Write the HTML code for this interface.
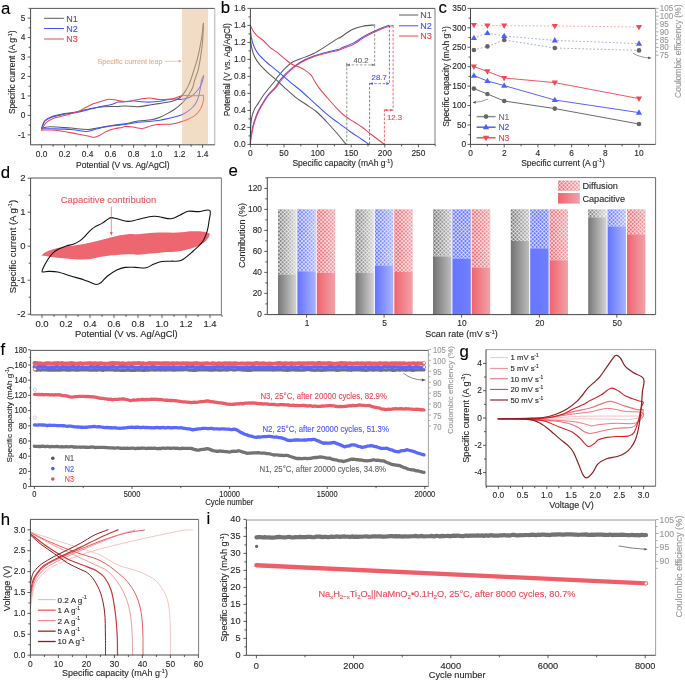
<!DOCTYPE html>
<html><head><meta charset="utf-8"><style>
html,body{margin:0;padding:0;background:#fff;}
svg{display:block;font-family:"Liberation Sans",sans-serif;filter:blur(0.3px);}
</style></head><body>
<svg width="685" height="681" viewBox="0 0 685 681">
<defs>
<linearGradient id="gG" x1="0" x2="1" y1="0" y2="0"><stop offset="0" stop-color="#777"/><stop offset="1" stop-color="#d4d4d4"/></linearGradient>
<linearGradient id="gB" x1="0" x2="1" y1="0" y2="0"><stop offset="0" stop-color="#6374ff"/><stop offset="1" stop-color="#a9b3ff"/></linearGradient>
<linearGradient id="gR" x1="0" x2="1" y1="0" y2="0"><stop offset="0" stop-color="#f0646e"/><stop offset="1" stop-color="#f2a2a8"/></linearGradient>
<linearGradient id="gG2" x1="0" x2="1" y1="0" y2="0"><stop offset="0" stop-color="#727272"/><stop offset="1" stop-color="#bdbdbd"/></linearGradient>
<linearGradient id="gBu" x1="0" x2="1" y1="0" y2="0"><stop offset="0" stop-color="#6676ff"/><stop offset="1" stop-color="#6f7fff"/></linearGradient>
<pattern id="hatch" width="2.72" height="2.72" patternUnits="userSpaceOnUse" patternTransform="rotate(45)">
<rect x="0" y="0" width="2.72" height="0.62" fill="#fff" fill-opacity="0.9"/><rect x="0" y="0" width="0.62" height="2.72" fill="#fff" fill-opacity="0.9"/></pattern>
</defs>
<rect width="685" height="681" fill="#fff"/>
<path d="M41.7,128.1 C42.18,126.9 43.03,122.77 44.6,120.9 C46.17,119.03 47.82,118.12 51.1,116.9 C54.38,115.68 59.92,114.47 64.3,113.6 C68.68,112.73 73.02,112.57 77.4,111.7 C81.78,110.83 86.22,109.22 90.6,108.4 C94.98,107.58 99.33,107.13 103.7,106.8 C108.07,106.47 113.25,106.53 116.8,106.4 C120.35,106.27 121.45,105.95 125,106 C128.55,106.05 133.72,106.92 138.1,106.7 C142.48,106.48 147.65,105.25 151.3,104.7 C154.95,104.15 157.33,103.8 160,103.4 C162.67,103 164.87,102.8 167.3,102.3 C169.73,101.8 172.65,101.08 174.6,100.4 C176.55,99.72 177.78,98.98 179,98.2 C180.22,97.42 180.82,96.92 181.9,95.7 C182.98,94.48 184.38,92.67 185.5,90.9 C186.62,89.13 187.7,87 188.6,85.1 C189.5,83.2 190.08,81.77 190.9,79.5 C191.72,77.23 192.4,75.03 193.5,71.5 C194.6,67.97 196.4,62.48 197.5,58.3 C198.6,54.12 199.33,50.37 200.1,46.4 C200.87,42.43 201.55,38.35 202.1,34.5 C202.65,30.65 203.18,25.17 203.4,23.3" stroke="#5a5a5a" stroke-width="1.05" fill="none" stroke-linejoin="round" stroke-linecap="round" />
<path d="M203.4,23.3 C203.28,26.05 203.13,34.4 202.7,39.8 C202.27,45.2 201.57,50.63 200.8,55.7 C200.03,60.77 199.12,66.15 198.1,70.2 C197.08,74.25 195.58,77.15 194.7,80 C193.82,82.85 193.6,85.17 192.8,87.3 C192,89.43 190.98,90.98 189.9,92.8 C188.82,94.62 187.52,96.57 186.3,98.2 C185.08,99.83 183.7,101.43 182.6,102.6 C181.5,103.77 181.03,104.1 179.7,105.2 C178.37,106.3 176.67,107.8 174.6,109.2 C172.53,110.6 169.73,112.27 167.3,113.6 C164.87,114.93 162.67,116.17 160,117.2 C157.33,118.23 154.95,119.15 151.3,119.8 C147.65,120.45 142.48,120.43 138.1,121.1 C133.72,121.77 128.55,123.18 125,123.8 C121.45,124.42 120.35,124.3 116.8,124.8 C113.25,125.3 108.4,126.03 103.7,126.8 C99,127.57 94.08,129.18 88.6,129.4 C83.12,129.62 77.05,128.53 70.8,128.1 C64.55,127.67 55.95,126.8 51.1,126.8 C46.25,126.8 43.27,127.88 41.7,128.1" stroke="#5a5a5a" stroke-width="1.05" fill="none" stroke-linejoin="round" stroke-linecap="round" />
<path d="M41.7,128.8 C42.18,127.58 43.03,123.37 44.6,121.5 C46.17,119.63 47.82,118.8 51.1,117.6 C54.38,116.4 59.92,115.18 64.3,114.3 C68.68,113.42 73.02,113.17 77.4,112.3 C81.78,111.43 86.65,110.08 90.6,109.1 C94.55,108.12 97.6,107.17 101.1,106.4 C104.6,105.63 108.77,105.22 111.6,104.5 C114.43,103.78 115.87,102.55 118.1,102.1 C120.33,101.65 122.53,102.02 125,101.8 C127.47,101.58 130.27,100.8 132.9,100.8 C135.53,100.8 137.73,101.58 140.8,101.8 C143.87,102.02 148.1,102.2 151.3,102.1 C154.5,102 157.33,101.6 160,101.2 C162.67,100.8 164.87,100.05 167.3,99.7 C169.73,99.35 172.17,99.17 174.6,99.1 C177.03,99.03 179.47,99.57 181.9,99.3 C184.33,99.03 187.25,98.28 189.2,97.5 C191.15,96.72 192.02,96.05 193.6,94.6 C195.18,93.15 197.3,90.75 198.7,88.8 C200.1,86.85 201.17,85.07 202,82.9 C202.83,80.73 203.42,76.98 203.7,75.8" stroke="#4152ff" stroke-width="1.05" fill="none" stroke-linejoin="round" stroke-linecap="round" />
<path d="M203.7,75.8 C203.35,76.5 202.13,78.08 201.6,80 C201.07,81.92 200.98,84.62 200.5,87.3 C200.02,89.98 199.37,93.67 198.7,96.1 C198.03,98.53 197.48,100.08 196.5,101.9 C195.52,103.72 194.27,105.42 192.8,107 C191.33,108.58 189.52,110.12 187.7,111.4 C185.88,112.68 184.08,113.78 181.9,114.7 C179.72,115.62 177.03,116.23 174.6,116.9 C172.17,117.57 169.73,118.15 167.3,118.7 C164.87,119.25 162.67,119.77 160,120.2 C157.33,120.63 154.95,120.95 151.3,121.3 C147.65,121.65 142.48,121.78 138.1,122.3 C133.72,122.82 129.63,123.77 125,124.4 C120.37,125.03 114.95,125.37 110.3,126.1 C105.65,126.83 101.05,127.92 97.1,128.8 C93.15,129.68 90.98,131.3 86.6,131.4 C82.22,131.5 76.72,129.83 70.8,129.4 C64.88,128.97 55.95,128.9 51.1,128.8 C46.25,128.7 43.27,128.8 41.7,128.8" stroke="#4152ff" stroke-width="1.05" fill="none" stroke-linejoin="round" stroke-linecap="round" />
<path d="M41.7,130.1 C42.4,128.88 43.88,124.78 45.9,122.8 C47.92,120.82 50.73,119.4 53.8,118.2 C56.87,117 60.37,116.68 64.3,115.6 C68.23,114.52 74.12,112.9 77.4,111.7 C80.68,110.5 81.37,109.72 84,108.4 C86.63,107.08 90.57,104.9 93.2,103.8 C95.83,102.7 97.17,102.57 99.8,101.8 C102.43,101.03 106.17,99.47 109,99.2 C111.83,98.93 114.62,99.87 116.8,100.2 C118.98,100.53 120.23,100.97 122.1,101.2 C123.97,101.43 125.77,101.78 128,101.6 C130.23,101.42 132.07,100.68 135.5,100.1 C138.93,99.52 144.65,98.2 148.6,98.1 C152.55,98 156.08,99.3 159.2,99.5 C162.32,99.7 164.73,99.52 167.3,99.3 C169.87,99.08 172.17,98.8 174.6,98.2 C177.03,97.6 179.47,96.12 181.9,95.7 C184.33,95.28 186.77,95.7 189.2,95.7 C191.63,95.7 194.13,95.78 196.5,95.7 C198.87,95.62 202.25,95.28 203.4,95.2" stroke="#ec4452" stroke-width="1.05" fill="none" stroke-linejoin="round" stroke-linecap="round" />
<path d="M203.4,95.2 C203.43,95.83 203.78,97.4 203.6,99 C203.42,100.6 203,102.85 202.3,104.8 C201.6,106.75 200.73,108.87 199.4,110.7 C198.07,112.53 196,114.47 194.3,115.8 C192.6,117.13 191.27,117.73 189.2,118.7 C187.13,119.67 183.97,120.87 181.9,121.6 C179.83,122.33 178.62,122.67 176.8,123.1 C174.98,123.53 173.2,124.02 171,124.2 C168.8,124.38 165.93,124.13 163.6,124.2 C161.27,124.27 159.05,124.35 157,124.6 C154.95,124.85 153.78,125.07 151.3,125.7 C148.82,126.33 145.17,128.18 142.1,128.4 C139.03,128.62 135.75,127.33 132.9,127 C130.05,126.67 126.8,126.33 125,126.4 C123.2,126.47 123.9,127 122.1,127.4 C120.3,127.8 116.83,128.13 114.2,128.8 C111.57,129.47 108.7,130.32 106.3,131.4 C103.9,132.48 101.77,134.32 99.8,135.3 C97.83,136.28 96.48,137.18 94.5,137.3 C92.52,137.42 90.75,136.55 87.9,136 C85.05,135.45 81.33,134.77 77.4,134 C73.47,133.23 68.68,132.05 64.3,131.4 C59.92,130.75 54.87,130.32 51.1,130.1 C47.33,129.88 43.27,130.1 41.7,130.1" stroke="#ec4452" stroke-width="1.05" fill="none" stroke-linejoin="round" stroke-linecap="round" />
<rect x="182.1" y="9.0" width="26.0" height="135.1" fill="#e5b98d" fill-opacity="0.5"/>
<line x1="30.6" y1="8.4" x2="214.8" y2="8.4" stroke="#444" stroke-width="0.9" />
<line x1="214.8" y1="8.4" x2="214.8" y2="144.8" stroke="#a8a8a8" stroke-width="0.9" />
<line x1="30.6" y1="144.8" x2="214.8" y2="144.8" stroke="#333" stroke-width="0.9" />
<line x1="30.6" y1="8.4" x2="30.6" y2="144.8" stroke="#333" stroke-width="0.9" />
<line x1="41.6" y1="144.8" x2="41.6" y2="147.8" stroke="#333" stroke-width="0.8" />
<line x1="64.6" y1="144.8" x2="64.6" y2="147.8" stroke="#333" stroke-width="0.8" />
<line x1="87.6" y1="144.8" x2="87.6" y2="147.8" stroke="#333" stroke-width="0.8" />
<line x1="110.6" y1="144.8" x2="110.6" y2="147.8" stroke="#333" stroke-width="0.8" />
<line x1="133.6" y1="144.8" x2="133.6" y2="147.8" stroke="#333" stroke-width="0.8" />
<line x1="156.6" y1="144.8" x2="156.6" y2="147.8" stroke="#333" stroke-width="0.8" />
<line x1="179.6" y1="144.8" x2="179.6" y2="147.8" stroke="#333" stroke-width="0.8" />
<line x1="202.6" y1="144.8" x2="202.6" y2="147.8" stroke="#333" stroke-width="0.8" />
<line x1="53.1" y1="144.8" x2="53.1" y2="146.8" stroke="#333" stroke-width="0.8" />
<line x1="76.1" y1="144.8" x2="76.1" y2="146.8" stroke="#333" stroke-width="0.8" />
<line x1="99.1" y1="144.8" x2="99.1" y2="146.8" stroke="#333" stroke-width="0.8" />
<line x1="122.1" y1="144.8" x2="122.1" y2="146.8" stroke="#333" stroke-width="0.8" />
<line x1="145.1" y1="144.8" x2="145.1" y2="146.8" stroke="#333" stroke-width="0.8" />
<line x1="168.1" y1="144.8" x2="168.1" y2="146.8" stroke="#333" stroke-width="0.8" />
<line x1="191.1" y1="144.8" x2="191.1" y2="146.8" stroke="#333" stroke-width="0.8" />
<line x1="30.6" y1="134.86" x2="27.6" y2="134.86" stroke="#333" stroke-width="0.8" />
<line x1="30.6" y1="115.4" x2="27.6" y2="115.4" stroke="#333" stroke-width="0.8" />
<line x1="30.6" y1="95.94" x2="27.6" y2="95.94" stroke="#333" stroke-width="0.8" />
<line x1="30.6" y1="76.48" x2="27.6" y2="76.48" stroke="#333" stroke-width="0.8" />
<line x1="30.6" y1="57.02" x2="27.6" y2="57.02" stroke="#333" stroke-width="0.8" />
<line x1="30.6" y1="37.56" x2="27.6" y2="37.56" stroke="#333" stroke-width="0.8" />
<line x1="30.6" y1="18.1" x2="27.6" y2="18.1" stroke="#333" stroke-width="0.8" />
<line x1="30.6" y1="125.13" x2="28.6" y2="125.13" stroke="#333" stroke-width="0.8" />
<line x1="30.6" y1="105.67" x2="28.6" y2="105.67" stroke="#333" stroke-width="0.8" />
<line x1="30.6" y1="86.21" x2="28.6" y2="86.21" stroke="#333" stroke-width="0.8" />
<line x1="30.6" y1="66.75" x2="28.6" y2="66.75" stroke="#333" stroke-width="0.8" />
<line x1="30.6" y1="47.29" x2="28.6" y2="47.29" stroke="#333" stroke-width="0.8" />
<line x1="30.6" y1="27.83" x2="28.6" y2="27.83" stroke="#333" stroke-width="0.8" />
<line x1="30.6" y1="8.37" x2="28.6" y2="8.37" stroke="#333" stroke-width="0.8" />
<text transform="translate(41.6,156.9) scale(0.9,1)" font-size="9.3" text-anchor="middle" fill="#2a2a2a" stroke="#2a2a2a" stroke-width="0.13" >0.0</text>
<text transform="translate(64.6,156.9) scale(0.9,1)" font-size="9.3" text-anchor="middle" fill="#2a2a2a" stroke="#2a2a2a" stroke-width="0.13" >0.2</text>
<text transform="translate(87.6,156.9) scale(0.9,1)" font-size="9.3" text-anchor="middle" fill="#2a2a2a" stroke="#2a2a2a" stroke-width="0.13" >0.4</text>
<text transform="translate(110.6,156.9) scale(0.9,1)" font-size="9.3" text-anchor="middle" fill="#2a2a2a" stroke="#2a2a2a" stroke-width="0.13" >0.6</text>
<text transform="translate(133.6,156.9) scale(0.9,1)" font-size="9.3" text-anchor="middle" fill="#2a2a2a" stroke="#2a2a2a" stroke-width="0.13" >0.8</text>
<text transform="translate(156.6,156.9) scale(0.9,1)" font-size="9.3" text-anchor="middle" fill="#2a2a2a" stroke="#2a2a2a" stroke-width="0.13" >1.0</text>
<text transform="translate(179.6,156.9) scale(0.9,1)" font-size="9.3" text-anchor="middle" fill="#2a2a2a" stroke="#2a2a2a" stroke-width="0.13" >1.2</text>
<text transform="translate(202.6,156.9) scale(0.9,1)" font-size="9.3" text-anchor="middle" fill="#2a2a2a" stroke="#2a2a2a" stroke-width="0.13" >1.4</text>
<text transform="translate(25.4,137.56) scale(0.9,1)" font-size="9.3" text-anchor="end" fill="#2a2a2a" stroke="#2a2a2a" stroke-width="0.13" >-1</text>
<text transform="translate(25.4,118.1) scale(0.9,1)" font-size="9.3" text-anchor="end" fill="#2a2a2a" stroke="#2a2a2a" stroke-width="0.13" >0</text>
<text transform="translate(25.4,98.64) scale(0.9,1)" font-size="9.3" text-anchor="end" fill="#2a2a2a" stroke="#2a2a2a" stroke-width="0.13" >1</text>
<text transform="translate(25.4,79.18) scale(0.9,1)" font-size="9.3" text-anchor="end" fill="#2a2a2a" stroke="#2a2a2a" stroke-width="0.13" >2</text>
<text transform="translate(25.4,59.72) scale(0.9,1)" font-size="9.3" text-anchor="end" fill="#2a2a2a" stroke="#2a2a2a" stroke-width="0.13" >3</text>
<text transform="translate(25.4,40.26) scale(0.9,1)" font-size="9.3" text-anchor="end" fill="#2a2a2a" stroke="#2a2a2a" stroke-width="0.13" >4</text>
<text transform="translate(25.4,20.8) scale(0.9,1)" font-size="9.3" text-anchor="end" fill="#2a2a2a" stroke="#2a2a2a" stroke-width="0.13" >5</text>
<text x="122.8" y="167.6" font-size="8.55" text-anchor="middle" fill="#2a2a2a" stroke="#2a2a2a" stroke-width="0.13" >Potential (V vs. Ag/AgCl)</text>
<text transform="translate(15.3,72.3) rotate(-90)" font-size="8.5" text-anchor="middle" fill="#2a2a2a" stroke="#2a2a2a" stroke-width="0.13" >Specific current (A g<tspan dy="-3.23" font-size="5.27">-1</tspan><tspan dy="3.23">)</tspan></text>
<line x1="44.1" y1="18.3" x2="63.9" y2="18.3" stroke="#5a5a5a" stroke-width="1.0" />
<text x="66.2" y="21.5" font-size="9.0" text-anchor="start" fill="#5a5a5a" stroke="#5a5a5a" stroke-width="0.13" >N1</text>
<line x1="44.1" y1="28.5" x2="63.9" y2="28.5" stroke="#4152ff" stroke-width="1.0" />
<text x="66.2" y="31.7" font-size="9.0" text-anchor="start" fill="#4152ff" stroke="#4152ff" stroke-width="0.13" >N2</text>
<line x1="44.1" y1="39" x2="63.9" y2="39" stroke="#ec4452" stroke-width="1.0" />
<text x="66.2" y="42.2" font-size="9.0" text-anchor="start" fill="#ec4452" stroke="#ec4452" stroke-width="0.13" >N3</text>
<text x="97.4" y="63.6" font-size="7.2" text-anchor="start" fill="#eab080" stroke="#eab080" stroke-width="0.13" >Specific current leap</text>
<line x1="164.5" y1="61.2" x2="179.5" y2="61.2" stroke="#e8a878" stroke-width="0.6" />
<path d="M182,61.2 L178.6,59.8 L178.6,62.6 Z" fill="#e8a878"/>
<text x="0.9" y="13.6" font-size="16.8" text-anchor="start" fill="#000" stroke="#000" stroke-width="0.13" >a</text>
<path d="M250.4,144.4 C250.43,142 250.48,133.78 250.6,130 C250.72,126.22 250.82,124.17 251.1,121.7 C251.38,119.23 251.7,117.37 252.3,115.2 C252.9,113.03 253.77,110.58 254.7,108.7 C255.63,106.82 256.42,106.18 257.9,103.9 C259.38,101.62 261.67,97.73 263.6,95 C265.53,92.27 267.5,90 269.5,87.5 C271.5,85 274.37,81.62 275.6,80 C276.83,78.38 275.37,79.7 276.9,77.8 C278.43,75.9 282.17,71.23 284.8,68.6 C287.43,65.97 290.07,63.63 292.7,62 C295.33,60.37 297.1,60.22 300.6,58.8 C304.1,57.38 309.33,55.7 313.7,53.5 C318.07,51.3 322.75,48.12 326.8,45.6 C330.85,43.08 335.72,39.78 338,38.4 C340.28,37.02 338.12,38.78 340.5,37.3 C342.88,35.82 348.58,31.35 352.3,29.5 C356.02,27.65 359.07,26.97 362.8,26.2 C366.53,25.43 372.72,25.12 374.7,24.9" stroke="#5a5a5a" stroke-width="1.05" fill="none" stroke-linejoin="round" stroke-linecap="round" />
<path d="M250.4,142.2 C250.48,141.27 250.73,137.98 250.9,136.6 C251.07,135.22 251.07,135.65 251.4,133.9 C251.73,132.15 252.25,128.7 252.9,126.1 C253.55,123.5 254.37,120.92 255.3,118.3 C256.23,115.68 257.28,112.92 258.5,110.4 C259.72,107.88 260.92,105.87 262.6,103.2 C264.28,100.53 266.47,97.08 268.6,94.4 C270.73,91.72 273.37,89.65 275.4,87.1 C277.43,84.55 278.37,81.97 280.8,79.1 C283.23,76.23 286.7,72.75 290,69.9 C293.3,67.05 296.65,64.3 300.6,62 C304.55,59.7 309.33,57.73 313.7,56.1 C318.07,54.47 322.75,53.28 326.8,52.2 C330.85,51.12 335.28,50.43 338,49.6 C340.72,48.77 340.48,48.32 343.1,47.2 C345.72,46.08 350.18,44.73 353.7,42.9 C357.22,41.07 360.7,38.2 364.2,36.2 C367.7,34.2 371.2,32.48 374.7,30.9 C378.2,29.32 382.8,27.65 385.2,26.7 C387.6,25.75 388.45,25.45 389.1,25.2" stroke="#4152ff" stroke-width="1.05" fill="none" stroke-linejoin="round" stroke-linecap="round" />
<path d="M250.4,144.4 C250.48,143.42 250.72,140 250.9,138.5 C251.08,137 251.13,137.27 251.5,135.4 C251.87,133.53 252.43,130 253.1,127.3 C253.77,124.6 254.57,121.88 255.5,119.2 C256.43,116.52 257.48,113.75 258.7,111.2 C259.92,108.65 261.12,106.6 262.8,103.9 C264.48,101.2 266.67,97.67 268.8,95 C270.93,92.33 273.48,90.4 275.6,87.9 C277.72,85.4 279.1,82.88 281.5,80 C283.9,77.12 286.82,73.47 290,70.6 C293.18,67.73 296.65,65.1 300.6,62.8 C304.55,60.5 309.33,58.43 313.7,56.8 C318.07,55.17 322.75,54.07 326.8,53 C330.85,51.93 335.28,51.15 338,50.4 C340.72,49.65 340.48,49.53 343.1,48.5 C345.72,47.47 350.18,46.05 353.7,44.2 C357.22,42.35 360.7,39.43 364.2,37.4 C367.7,35.37 371.2,33.63 374.7,32 C378.2,30.37 382.13,28.7 385.2,27.6 C388.27,26.5 391.78,25.77 393.1,25.4" stroke="#ec4452" stroke-width="1.05" fill="none" stroke-linejoin="round" stroke-linecap="round" />
<path d="M250.4,38.4 C250.62,39.93 251,44.53 251.7,47.6 C252.4,50.67 253.25,53.95 254.6,56.8 C255.95,59.65 257.62,62.07 259.8,64.7 C261.98,67.33 264.85,69.98 267.7,72.6 C270.55,75.22 274.05,77.85 276.9,80.4 C279.75,82.95 281.73,85.12 284.8,87.9 C287.87,90.68 291.8,94.37 295.3,97.1 C298.8,99.83 302.3,101.9 305.8,104.3 C309.3,106.7 312.8,108.55 316.3,111.5 C319.8,114.45 323.18,118.17 326.8,122 C330.42,125.83 334.8,130.77 338,134.5 C341.2,138.23 344.67,142.75 346,144.4" stroke="#5a5a5a" stroke-width="1.05" fill="none" stroke-linejoin="round" stroke-linecap="round" />
<path d="M250.4,27.9 C250.55,29.43 250.72,34.03 251.3,37.1 C251.88,40.17 252.7,43.45 253.9,46.3 C255.1,49.15 256.42,51.58 258.5,54.2 C260.58,56.82 263.77,59.6 266.4,62 C269.03,64.4 271.67,66.4 274.3,68.6 C276.93,70.8 279.35,72.78 282.2,75.2 C285.05,77.62 288.33,80.55 291.4,83.1 C294.47,85.65 296.88,87.3 300.6,90.5 C304.32,93.7 309.33,98.35 313.7,102.3 C318.07,106.25 322.75,110.8 326.8,114.2 C330.85,117.6 334.13,119.82 338,122.7 C341.87,125.58 346,128.7 350,131.5 C354,134.3 358.83,137.35 362,139.5 C365.17,141.65 367.83,143.58 369,144.4" stroke="#4152ff" stroke-width="1.05" fill="none" stroke-linejoin="round" stroke-linecap="round" />
<path d="M250.4,25.3 C250.88,26.28 252.17,29.45 253.3,31.2 C254.43,32.95 255.45,34.17 257.2,35.8 C258.95,37.43 261.62,39.03 263.8,41 C265.98,42.97 268.12,45.73 270.3,47.6 C272.48,49.47 274.48,50.33 276.9,52.2 C279.32,54.07 282.38,56.83 284.8,58.8 C287.22,60.77 289.22,62.7 291.4,64 C293.58,65.3 295.72,65.62 297.9,66.6 C300.08,67.58 302.3,68.47 304.5,69.9 C306.7,71.33 309.35,73.22 311.1,75.2 C312.85,77.18 313.68,79.68 315,81.8 C316.32,83.92 317.03,85.35 319,87.9 C320.97,90.45 323.63,93.48 326.8,97.1 C329.97,100.72 334.97,106.45 338,109.6 C341.03,112.75 342.33,113.93 345,116 C347.67,118.07 351.17,120.17 354,122 C356.83,123.83 359,124.83 362,127 C365,129.17 368.27,132.1 372,135 C375.73,137.9 382.33,142.83 384.4,144.4" stroke="#ec4452" stroke-width="1.05" fill="none" stroke-linejoin="round" stroke-linecap="round" />
<line x1="374.7" y1="25.5" x2="374.7" y2="66" stroke="#777" stroke-width="0.8" stroke-dasharray="2.6,1.6"/>
<line x1="346.8" y1="63.5" x2="346.8" y2="144.4" stroke="#777" stroke-width="0.8" stroke-dasharray="2.6,1.6"/>
<line x1="347.3" y1="64.9" x2="374.2" y2="64.9" stroke="#777" stroke-width="0.7" stroke-dasharray="2.6,1.6"/>
<line x1="346.8" y1="62.8" x2="346.8" y2="67" stroke="#777" stroke-width="0.7" />
<path d="M347,64.9 L350,63.6 L350,66.2 Z" fill="#777"/><path d="M374.6,64.9 L371.6,63.6 L371.6,66.2 Z" fill="#777"/>
<text x="361" y="63" font-size="7.8" text-anchor="middle" fill="#666" stroke="#666" stroke-width="0.13" >40.2</text>
<line x1="389.4" y1="25.5" x2="389.4" y2="84" stroke="#4152ff" stroke-width="0.8" stroke-dasharray="2.6,1.6"/>
<line x1="369.6" y1="82.8" x2="369.6" y2="144.4" stroke="#4152ff" stroke-width="0.8" stroke-dasharray="2.6,1.6"/>
<line x1="370" y1="83.6" x2="389" y2="83.6" stroke="#4152ff" stroke-width="0.7" stroke-dasharray="2.6,1.6"/>
<path d="M369.8,83.6 L372.8,82.3 L372.8,84.9 Z" fill="#4152ff"/><path d="M389.3,83.6 L386.3,82.3 L386.3,84.9 Z" fill="#4152ff"/>
<text x="379.2" y="80" font-size="7.8" text-anchor="middle" fill="#4152ff" stroke="#4152ff" stroke-width="0.13" >28.7</text>
<line x1="393.1" y1="25.5" x2="393.1" y2="110.5" stroke="#ec4452" stroke-width="0.8" stroke-dasharray="2.6,1.6"/>
<line x1="384.4" y1="109.2" x2="384.4" y2="144.4" stroke="#ec4452" stroke-width="0.8" stroke-dasharray="2.6,1.6"/>
<line x1="384.6" y1="110.1" x2="393" y2="110.1" stroke="#ec4452" stroke-width="0.7" />
<path d="M384.6,110.1 L387.4,108.9 L387.4,111.3 Z" fill="#ec4452"/><path d="M393,110.1 L390.2,108.9 L390.2,111.3 Z" fill="#ec4452"/>
<text x="387" y="120.2" font-size="7.8" text-anchor="start" fill="#ec4452" stroke="#ec4452" stroke-width="0.13" >12.3</text>
<line x1="250.4" y1="8.4" x2="435" y2="8.4" stroke="#444" stroke-width="0.9" />
<line x1="435" y1="8.4" x2="435" y2="144.4" stroke="#6e6e6e" stroke-width="0.9" />
<line x1="250.4" y1="144.4" x2="435" y2="144.4" stroke="#333" stroke-width="0.9" />
<line x1="250.4" y1="8.4" x2="250.4" y2="144.4" stroke="#333" stroke-width="0.9" />
<line x1="250.4" y1="144.4" x2="250.4" y2="147.4" stroke="#333" stroke-width="0.8" />
<line x1="284" y1="144.4" x2="284" y2="147.4" stroke="#333" stroke-width="0.8" />
<line x1="317.6" y1="144.4" x2="317.6" y2="147.4" stroke="#333" stroke-width="0.8" />
<line x1="351.2" y1="144.4" x2="351.2" y2="147.4" stroke="#333" stroke-width="0.8" />
<line x1="384.8" y1="144.4" x2="384.8" y2="147.4" stroke="#333" stroke-width="0.8" />
<line x1="418.4" y1="144.4" x2="418.4" y2="147.4" stroke="#333" stroke-width="0.8" />
<line x1="267.2" y1="144.4" x2="267.2" y2="146.4" stroke="#333" stroke-width="0.8" />
<line x1="300.8" y1="144.4" x2="300.8" y2="146.4" stroke="#333" stroke-width="0.8" />
<line x1="334.4" y1="144.4" x2="334.4" y2="146.4" stroke="#333" stroke-width="0.8" />
<line x1="368" y1="144.4" x2="368" y2="146.4" stroke="#333" stroke-width="0.8" />
<line x1="401.6" y1="144.4" x2="401.6" y2="146.4" stroke="#333" stroke-width="0.8" />
<line x1="435.2" y1="144.4" x2="435.2" y2="146.4" stroke="#333" stroke-width="0.8" />
<line x1="250.4" y1="144.4" x2="247.4" y2="144.4" stroke="#333" stroke-width="0.8" />
<line x1="250.4" y1="127.4" x2="247.4" y2="127.4" stroke="#333" stroke-width="0.8" />
<line x1="250.4" y1="110.4" x2="247.4" y2="110.4" stroke="#333" stroke-width="0.8" />
<line x1="250.4" y1="93.4" x2="247.4" y2="93.4" stroke="#333" stroke-width="0.8" />
<line x1="250.4" y1="76.4" x2="247.4" y2="76.4" stroke="#333" stroke-width="0.8" />
<line x1="250.4" y1="59.4" x2="247.4" y2="59.4" stroke="#333" stroke-width="0.8" />
<line x1="250.4" y1="42.4" x2="247.4" y2="42.4" stroke="#333" stroke-width="0.8" />
<line x1="250.4" y1="25.4" x2="247.4" y2="25.4" stroke="#333" stroke-width="0.8" />
<line x1="250.4" y1="8.4" x2="247.4" y2="8.4" stroke="#333" stroke-width="0.8" />
<line x1="250.4" y1="135.9" x2="248.4" y2="135.9" stroke="#333" stroke-width="0.8" />
<line x1="250.4" y1="118.9" x2="248.4" y2="118.9" stroke="#333" stroke-width="0.8" />
<line x1="250.4" y1="101.9" x2="248.4" y2="101.9" stroke="#333" stroke-width="0.8" />
<line x1="250.4" y1="84.9" x2="248.4" y2="84.9" stroke="#333" stroke-width="0.8" />
<line x1="250.4" y1="67.9" x2="248.4" y2="67.9" stroke="#333" stroke-width="0.8" />
<line x1="250.4" y1="50.9" x2="248.4" y2="50.9" stroke="#333" stroke-width="0.8" />
<line x1="250.4" y1="33.9" x2="248.4" y2="33.9" stroke="#333" stroke-width="0.8" />
<line x1="250.4" y1="16.9" x2="248.4" y2="16.9" stroke="#333" stroke-width="0.8" />
<text transform="translate(250.4,156.4) scale(0.9,1)" font-size="9.3" text-anchor="middle" fill="#2a2a2a" stroke="#2a2a2a" stroke-width="0.13" >0</text>
<text transform="translate(284,156.4) scale(0.9,1)" font-size="9.3" text-anchor="middle" fill="#2a2a2a" stroke="#2a2a2a" stroke-width="0.13" >50</text>
<text transform="translate(317.6,156.4) scale(0.9,1)" font-size="9.3" text-anchor="middle" fill="#2a2a2a" stroke="#2a2a2a" stroke-width="0.13" >100</text>
<text transform="translate(351.2,156.4) scale(0.9,1)" font-size="9.3" text-anchor="middle" fill="#2a2a2a" stroke="#2a2a2a" stroke-width="0.13" >150</text>
<text transform="translate(384.8,156.4) scale(0.9,1)" font-size="9.3" text-anchor="middle" fill="#2a2a2a" stroke="#2a2a2a" stroke-width="0.13" >200</text>
<text transform="translate(418.4,156.4) scale(0.9,1)" font-size="9.3" text-anchor="middle" fill="#2a2a2a" stroke="#2a2a2a" stroke-width="0.13" >250</text>
<text transform="translate(245.6,147.1) scale(0.9,1)" font-size="9.3" text-anchor="end" fill="#2a2a2a" stroke="#2a2a2a" stroke-width="0.13" >0.0</text>
<text transform="translate(245.6,130.1) scale(0.9,1)" font-size="9.3" text-anchor="end" fill="#2a2a2a" stroke="#2a2a2a" stroke-width="0.13" >0.2</text>
<text transform="translate(245.6,113.1) scale(0.9,1)" font-size="9.3" text-anchor="end" fill="#2a2a2a" stroke="#2a2a2a" stroke-width="0.13" >0.4</text>
<text transform="translate(245.6,96.1) scale(0.9,1)" font-size="9.3" text-anchor="end" fill="#2a2a2a" stroke="#2a2a2a" stroke-width="0.13" >0.6</text>
<text transform="translate(245.6,79.1) scale(0.9,1)" font-size="9.3" text-anchor="end" fill="#2a2a2a" stroke="#2a2a2a" stroke-width="0.13" >0.8</text>
<text transform="translate(245.6,62.1) scale(0.9,1)" font-size="9.3" text-anchor="end" fill="#2a2a2a" stroke="#2a2a2a" stroke-width="0.13" >1.0</text>
<text transform="translate(245.6,45.1) scale(0.9,1)" font-size="9.3" text-anchor="end" fill="#2a2a2a" stroke="#2a2a2a" stroke-width="0.13" >1.2</text>
<text transform="translate(245.6,28.1) scale(0.9,1)" font-size="9.3" text-anchor="end" fill="#2a2a2a" stroke="#2a2a2a" stroke-width="0.13" >1.4</text>
<text transform="translate(245.6,11.1) scale(0.9,1)" font-size="9.3" text-anchor="end" fill="#2a2a2a" stroke="#2a2a2a" stroke-width="0.13" >1.6</text>
<text x="342.7" y="166.3" font-size="8.5" text-anchor="middle" fill="#2a2a2a" stroke="#2a2a2a" stroke-width="0.13" >Specific capacity (mAh g<tspan dy="-3.23" font-size="5.27">-1</tspan><tspan dy="3.23">)</tspan></text>
<text transform="translate(229.8,69.8) rotate(-90)" font-size="8.5" text-anchor="middle" fill="#2a2a2a" stroke="#2a2a2a" stroke-width="0.13" >Potential (V vs. Ag/AgCl)</text>
<line x1="399" y1="15" x2="418.3" y2="15" stroke="#5a5a5a" stroke-width="1.0" />
<text x="420.2" y="18.2" font-size="9.0" text-anchor="start" fill="#5a5a5a" stroke="#5a5a5a" stroke-width="0.13" >N1</text>
<line x1="399" y1="25.8" x2="418.3" y2="25.8" stroke="#4152ff" stroke-width="1.0" />
<text x="420.2" y="29" font-size="9.0" text-anchor="start" fill="#4152ff" stroke="#4152ff" stroke-width="0.13" >N2</text>
<line x1="399" y1="36" x2="418.3" y2="36" stroke="#ec4452" stroke-width="1.0" />
<text x="420.2" y="39.2" font-size="9.0" text-anchor="start" fill="#ec4452" stroke="#ec4452" stroke-width="0.13" >N3</text>
<text x="220.8" y="12.7" font-size="16.8" text-anchor="start" fill="#000" stroke="#000" stroke-width="0.13" >b</text>
<path d="M473.9,50 L487.4,46.4 L504.2,40 L554.8,48 L639,50.4" stroke="#5a5a5a" stroke-width="0.7" fill="none" stroke-linejoin="round" stroke-linecap="round" stroke-dasharray="0.9,2.8" stroke-opacity="0.7"/>
<path d="M473.9,88.6 L487.4,94 L504.2,101 L554.8,108.6 L639,124" stroke="#5a5a5a" stroke-width="0.9" fill="none" stroke-linejoin="round" stroke-linecap="round" />
<path d="M473.9,38 L487.4,33 L504.2,36 L554.8,40.4 L639,43.6" stroke="#4152ff" stroke-width="0.7" fill="none" stroke-linejoin="round" stroke-linecap="round" stroke-dasharray="0.9,2.8" stroke-opacity="0.7"/>
<path d="M473.9,75.6 L487.4,81 L504.2,85.6 L554.8,100 L639,112.6" stroke="#4152ff" stroke-width="0.9" fill="none" stroke-linejoin="round" stroke-linecap="round" />
<path d="M473.9,25 L487.4,25.6 L504.2,25.6 L554.8,26 L639,27" stroke="#ec4452" stroke-width="0.7" fill="none" stroke-linejoin="round" stroke-linecap="round" stroke-dasharray="0.9,2.8" stroke-opacity="0.7"/>
<path d="M473.9,66.6 L487.4,71.4 L504.2,78 L554.8,82.6 L639,98.6" stroke="#ec4452" stroke-width="0.9" fill="none" stroke-linejoin="round" stroke-linecap="round" />
<circle cx="473.9" cy="88.6" r="2.3" fill="#666" />
<circle cx="487.4" cy="94" r="2.3" fill="#666" />
<circle cx="504.2" cy="101" r="2.3" fill="#666" />
<circle cx="554.8" cy="108.6" r="2.3" fill="#666" />
<circle cx="639" cy="124" r="2.3" fill="#666" />
<circle cx="473.9" cy="50" r="2.3" fill="#666" />
<circle cx="487.4" cy="46.4" r="2.3" fill="#666" />
<circle cx="504.2" cy="40" r="2.3" fill="#666" />
<circle cx="554.8" cy="48" r="2.3" fill="#666" />
<circle cx="639" cy="50.4" r="2.3" fill="#666" />
<path d="M473.9,72.26 L477,77.65 L470.8,77.65 Z" fill="#5060ff"/>
<path d="M487.4,77.66 L490.5,83.05 L484.3,83.05 Z" fill="#5060ff"/>
<path d="M504.2,82.26 L507.3,87.65 L501.1,87.65 Z" fill="#5060ff"/>
<path d="M554.8,96.66 L557.9,102.05 L551.7,102.05 Z" fill="#5060ff"/>
<path d="M639,109.26 L642.1,114.65 L635.9,114.65 Z" fill="#5060ff"/>
<path d="M473.9,34.66 L477,40.05 L470.8,40.05 Z" fill="#5060ff"/>
<path d="M487.4,29.66 L490.5,35.05 L484.3,35.05 Z" fill="#5060ff"/>
<path d="M504.2,32.66 L507.3,38.05 L501.1,38.05 Z" fill="#5060ff"/>
<path d="M554.8,37.06 L557.9,42.45 L551.7,42.45 Z" fill="#5060ff"/>
<path d="M639,40.26 L642.1,45.65 L635.9,45.65 Z" fill="#5060ff"/>
<path d="M473.9,69.94 L477,64.55 L470.8,64.55 Z" fill="#ee4a56"/>
<path d="M487.4,74.74 L490.5,69.35 L484.3,69.35 Z" fill="#ee4a56"/>
<path d="M504.2,81.34 L507.3,75.95 L501.1,75.95 Z" fill="#ee4a56"/>
<path d="M554.8,85.94 L557.9,80.55 L551.7,80.55 Z" fill="#ee4a56"/>
<path d="M639,101.94 L642.1,96.55 L635.9,96.55 Z" fill="#ee4a56"/>
<path d="M473.9,28.34 L477,22.95 L470.8,22.95 Z" fill="#ee4a56"/>
<path d="M487.4,28.94 L490.5,23.55 L484.3,23.55 Z" fill="#ee4a56"/>
<path d="M504.2,28.94 L507.3,23.55 L501.1,23.55 Z" fill="#ee4a56"/>
<path d="M554.8,29.34 L557.9,23.95 L551.7,23.95 Z" fill="#ee4a56"/>
<path d="M639,30.34 L642.1,24.95 L635.9,24.95 Z" fill="#ee4a56"/>
<path d="M487.6,99.2 Q481,102.5 473.6,102.4" stroke="#555" stroke-width="0.6" fill="none" stroke-linejoin="round" stroke-linecap="round" />
<path d="M472.6,102.4 L475.8,101.1 L475.6,103.7 Z" fill="#555"/>
<path d="M633.2,53.4 Q640,57.6 649.8,57.9" stroke="#555" stroke-width="0.6" fill="none" stroke-linejoin="round" stroke-linecap="round" />
<path d="M651.4,57.9 L648.2,56.6 L648.2,59.2 Z" fill="#555"/>
<line x1="470.5" y1="8.4" x2="655.6" y2="8.4" stroke="#444" stroke-width="0.9" />
<line x1="655.6" y1="8.4" x2="655.6" y2="144.4" stroke="#999" stroke-width="0.9" />
<line x1="470.5" y1="144.4" x2="655.6" y2="144.4" stroke="#333" stroke-width="0.9" />
<line x1="470.5" y1="8.4" x2="470.5" y2="144.4" stroke="#333" stroke-width="0.9" />
<line x1="470.5" y1="144.4" x2="470.5" y2="147.4" stroke="#333" stroke-width="0.8" />
<line x1="504.2" y1="144.4" x2="504.2" y2="147.4" stroke="#333" stroke-width="0.8" />
<line x1="537.9" y1="144.4" x2="537.9" y2="147.4" stroke="#333" stroke-width="0.8" />
<line x1="571.6" y1="144.4" x2="571.6" y2="147.4" stroke="#333" stroke-width="0.8" />
<line x1="605.3" y1="144.4" x2="605.3" y2="147.4" stroke="#333" stroke-width="0.8" />
<line x1="639" y1="144.4" x2="639" y2="147.4" stroke="#333" stroke-width="0.8" />
<line x1="487.35" y1="144.4" x2="487.35" y2="146.4" stroke="#333" stroke-width="0.8" />
<line x1="521.05" y1="144.4" x2="521.05" y2="146.4" stroke="#333" stroke-width="0.8" />
<line x1="554.75" y1="144.4" x2="554.75" y2="146.4" stroke="#333" stroke-width="0.8" />
<line x1="588.45" y1="144.4" x2="588.45" y2="146.4" stroke="#333" stroke-width="0.8" />
<line x1="622.15" y1="144.4" x2="622.15" y2="146.4" stroke="#333" stroke-width="0.8" />
<line x1="470.5" y1="144.4" x2="467.5" y2="144.4" stroke="#333" stroke-width="0.8" />
<line x1="470.5" y1="124.97" x2="467.5" y2="124.97" stroke="#333" stroke-width="0.8" />
<line x1="470.5" y1="105.54" x2="467.5" y2="105.54" stroke="#333" stroke-width="0.8" />
<line x1="470.5" y1="86.11" x2="467.5" y2="86.11" stroke="#333" stroke-width="0.8" />
<line x1="470.5" y1="66.68" x2="467.5" y2="66.68" stroke="#333" stroke-width="0.8" />
<line x1="470.5" y1="47.25" x2="467.5" y2="47.25" stroke="#333" stroke-width="0.8" />
<line x1="470.5" y1="27.82" x2="467.5" y2="27.82" stroke="#333" stroke-width="0.8" />
<line x1="470.5" y1="8.39" x2="467.5" y2="8.39" stroke="#333" stroke-width="0.8" />
<line x1="470.5" y1="134.69" x2="468.5" y2="134.69" stroke="#333" stroke-width="0.8" />
<line x1="470.5" y1="115.26" x2="468.5" y2="115.26" stroke="#333" stroke-width="0.8" />
<line x1="470.5" y1="95.83" x2="468.5" y2="95.83" stroke="#333" stroke-width="0.8" />
<line x1="470.5" y1="76.4" x2="468.5" y2="76.4" stroke="#333" stroke-width="0.8" />
<line x1="470.5" y1="56.97" x2="468.5" y2="56.97" stroke="#333" stroke-width="0.8" />
<line x1="470.5" y1="37.54" x2="468.5" y2="37.54" stroke="#333" stroke-width="0.8" />
<line x1="470.5" y1="18.11" x2="468.5" y2="18.11" stroke="#333" stroke-width="0.8" />
<line x1="655.6" y1="55.2" x2="658.6" y2="55.2" stroke="#999" stroke-width="0.8" />
<line x1="655.6" y1="47.4" x2="658.6" y2="47.4" stroke="#999" stroke-width="0.8" />
<line x1="655.6" y1="39.6" x2="658.6" y2="39.6" stroke="#999" stroke-width="0.8" />
<line x1="655.6" y1="31.8" x2="658.6" y2="31.8" stroke="#999" stroke-width="0.8" />
<line x1="655.6" y1="24" x2="658.6" y2="24" stroke="#999" stroke-width="0.8" />
<line x1="655.6" y1="16.2" x2="658.6" y2="16.2" stroke="#999" stroke-width="0.8" />
<line x1="655.6" y1="8.4" x2="658.6" y2="8.4" stroke="#999" stroke-width="0.8" />
<line x1="655.6" y1="51.3" x2="657.6" y2="51.3" stroke="#999" stroke-width="0.8" />
<line x1="655.6" y1="43.5" x2="657.6" y2="43.5" stroke="#999" stroke-width="0.8" />
<line x1="655.6" y1="35.7" x2="657.6" y2="35.7" stroke="#999" stroke-width="0.8" />
<line x1="655.6" y1="27.9" x2="657.6" y2="27.9" stroke="#999" stroke-width="0.8" />
<line x1="655.6" y1="20.1" x2="657.6" y2="20.1" stroke="#999" stroke-width="0.8" />
<line x1="655.6" y1="12.3" x2="657.6" y2="12.3" stroke="#999" stroke-width="0.8" />
<text transform="translate(470.5,156.2) scale(0.9,1)" font-size="9.3" text-anchor="middle" fill="#2a2a2a" stroke="#2a2a2a" stroke-width="0.13" >0</text>
<text transform="translate(504.2,156.2) scale(0.9,1)" font-size="9.3" text-anchor="middle" fill="#2a2a2a" stroke="#2a2a2a" stroke-width="0.13" >2</text>
<text transform="translate(537.9,156.2) scale(0.9,1)" font-size="9.3" text-anchor="middle" fill="#2a2a2a" stroke="#2a2a2a" stroke-width="0.13" >4</text>
<text transform="translate(571.6,156.2) scale(0.9,1)" font-size="9.3" text-anchor="middle" fill="#2a2a2a" stroke="#2a2a2a" stroke-width="0.13" >6</text>
<text transform="translate(605.3,156.2) scale(0.9,1)" font-size="9.3" text-anchor="middle" fill="#2a2a2a" stroke="#2a2a2a" stroke-width="0.13" >8</text>
<text transform="translate(639,156.2) scale(0.9,1)" font-size="9.3" text-anchor="middle" fill="#2a2a2a" stroke="#2a2a2a" stroke-width="0.13" >10</text>
<text transform="translate(466.2,147.1) scale(0.9,1)" font-size="9.3" text-anchor="end" fill="#2a2a2a" stroke="#2a2a2a" stroke-width="0.13" >0</text>
<text transform="translate(466.2,127.67) scale(0.9,1)" font-size="9.3" text-anchor="end" fill="#2a2a2a" stroke="#2a2a2a" stroke-width="0.13" >50</text>
<text transform="translate(466.2,108.24) scale(0.9,1)" font-size="9.3" text-anchor="end" fill="#2a2a2a" stroke="#2a2a2a" stroke-width="0.13" >100</text>
<text transform="translate(466.2,88.81) scale(0.9,1)" font-size="9.3" text-anchor="end" fill="#2a2a2a" stroke="#2a2a2a" stroke-width="0.13" >150</text>
<text transform="translate(466.2,69.38) scale(0.9,1)" font-size="9.3" text-anchor="end" fill="#2a2a2a" stroke="#2a2a2a" stroke-width="0.13" >200</text>
<text transform="translate(466.2,49.95) scale(0.9,1)" font-size="9.3" text-anchor="end" fill="#2a2a2a" stroke="#2a2a2a" stroke-width="0.13" >250</text>
<text transform="translate(466.2,30.52) scale(0.9,1)" font-size="9.3" text-anchor="end" fill="#2a2a2a" stroke="#2a2a2a" stroke-width="0.13" >300</text>
<text transform="translate(466.2,11.09) scale(0.9,1)" font-size="9.3" text-anchor="end" fill="#2a2a2a" stroke="#2a2a2a" stroke-width="0.13" >350</text>
<text transform="translate(659.8,58.2) scale(0.92,1)" font-size="8.8" text-anchor="start" fill="#999" stroke="#999" stroke-width="0.13" >75</text>
<text transform="translate(659.8,50.4) scale(0.92,1)" font-size="8.8" text-anchor="start" fill="#999" stroke="#999" stroke-width="0.13" >80</text>
<text transform="translate(659.8,42.6) scale(0.92,1)" font-size="8.8" text-anchor="start" fill="#999" stroke="#999" stroke-width="0.13" >85</text>
<text transform="translate(659.8,34.8) scale(0.92,1)" font-size="8.8" text-anchor="start" fill="#999" stroke="#999" stroke-width="0.13" >90</text>
<text transform="translate(659.8,27) scale(0.92,1)" font-size="8.8" text-anchor="start" fill="#999" stroke="#999" stroke-width="0.13" >95</text>
<text transform="translate(659.8,19.2) scale(0.92,1)" font-size="8.8" text-anchor="start" fill="#999" stroke="#999" stroke-width="0.13" >100</text>
<text transform="translate(659.8,11.4) scale(0.92,1)" font-size="8.8" text-anchor="start" fill="#999" stroke="#999" stroke-width="0.13" >105</text>
<text x="563" y="165.6" font-size="8.5" text-anchor="middle" fill="#2a2a2a" stroke="#2a2a2a" stroke-width="0.13" >Specific current (A g<tspan dy="-3.23" font-size="5.27">-1</tspan><tspan dy="3.23">)</tspan></text>
<text transform="translate(449.2,76.5) rotate(-90)" font-size="8.5" text-anchor="middle" fill="#2a2a2a" stroke="#2a2a2a" stroke-width="0.13" >Specific capacity (mAh g<tspan dy="-3.23" font-size="5.27">-1</tspan><tspan dy="3.23">)</tspan></text>
<text transform="translate(680.6,51.2) rotate(-90)" font-size="8.5" text-anchor="middle" fill="#999" stroke="#999" stroke-width="0.13" >Coulombic efficiency (%)</text>
<line x1="476.6" y1="116.6" x2="495.6" y2="116.6" stroke="#888" stroke-width="1.4" />
<circle cx="486" cy="116.6" r="2.3" fill="#666" />
<text x="498.4" y="119.7" font-size="8.6" text-anchor="start" fill="#777" stroke="#777" stroke-width="0.13" >N1</text>
<line x1="476.6" y1="127.2" x2="495.6" y2="127.2" stroke="#4152ff" stroke-width="1.4" />
<path d="M486,123.75 L489.2,129.32 L482.8,129.32 Z" fill="#5060ff"/>
<text x="498.4" y="130.3" font-size="8.6" text-anchor="start" fill="#4152ff" stroke="#4152ff" stroke-width="0.13" >N2</text>
<line x1="476.6" y1="137.8" x2="495.6" y2="137.8" stroke="#ec4452" stroke-width="1.4" />
<path d="M486,141.25 L489.2,135.68 L482.8,135.68 Z" fill="#ee4a56"/>
<text x="498.4" y="140.9" font-size="8.6" text-anchor="start" fill="#ec4452" stroke="#ec4452" stroke-width="0.13" >N3</text>
<text x="438.6" y="13" font-size="16.8" text-anchor="start" fill="#000" stroke="#000" stroke-width="0.13" >c</text>
<path d="M41.9,255.2 C42.57,254.67 43.92,253.03 45.9,252 C47.88,250.97 50.73,249.87 53.8,249 C56.87,248.13 60.37,247.45 64.3,246.8 C68.23,246.15 73.02,245.83 77.4,245.1 C81.78,244.37 86.22,243.38 90.6,242.4 C94.98,241.42 99.33,240.28 103.7,239.2 C108.07,238.12 112.75,236.73 116.8,235.9 C120.85,235.07 124.45,234.48 128,234.2 C131.55,233.92 133.13,234.47 138.1,234.2 C143.07,233.93 151.22,232.87 157.8,232.6 C164.38,232.33 172.12,232.82 177.6,232.6 C183.08,232.38 186.33,231.45 190.7,231.3 C195.07,231.15 200.63,231.32 203.8,231.7 C206.97,232.08 208.72,233.28 209.7,233.6 L209.7,233.6 C209.6,234.08 209.87,235.13 209.1,236.5 C208.33,237.87 206.85,240.27 205.1,241.8 C203.35,243.33 201,244.6 198.6,245.7 C196.2,246.8 194.2,247.42 190.7,248.4 C187.2,249.38 181.98,250.95 177.6,251.6 C173.22,252.25 168.78,251.97 164.4,252.3 C160.02,252.63 155.68,253.2 151.3,253.6 C146.92,254 141.98,254.58 138.1,254.7 C134.22,254.82 132.63,254.15 128,254.3 C123.37,254.45 115.45,255.05 110.3,255.6 C105.15,256.15 100.38,257.02 97.1,257.6 C93.82,258.18 93.88,258.78 90.6,259.1 C87.32,259.42 81.78,259.65 77.4,259.5 C73.02,259.35 68.68,258.63 64.3,258.2 C59.92,257.77 54.83,257.33 51.1,256.9 C47.37,256.47 43.43,255.88 41.9,255.6 C40.37,255.32 41.9,255.27 41.9,255.2 Z" fill="#ee6670" stroke="none"/>
<path d="M44.7,264.9 C45.28,263.92 46.85,260.95 48.2,259 C49.55,257.05 51.05,254.85 52.8,253.2 C54.55,251.55 56.55,250.27 58.7,249.1 C60.85,247.93 63.17,247.07 65.7,246.2 C68.23,245.33 71.57,244.78 73.9,243.9 C76.23,243.02 77.95,242.07 79.7,240.9 C81.45,239.73 82.83,238.45 84.4,236.9 C85.97,235.35 87.35,233.27 89.1,231.6 C90.85,229.93 92.77,228.27 94.9,226.9 C97.03,225.53 99.77,224.67 101.9,223.4 C104.03,222.13 106.15,220.27 107.7,219.3 C109.25,218.33 109.63,217.68 111.2,217.6 C112.77,217.52 114.3,218.17 117.1,218.8 C119.9,219.43 124.5,221.28 128,221.4 C131.5,221.52 133.78,220.37 138.1,219.5 C142.42,218.63 148.42,216.32 153.9,216.2 C159.38,216.08 166.62,219.02 171,218.8 C175.38,218.58 177.35,216.15 180.2,214.9 C183.05,213.65 185.03,211.85 188.1,211.3 C191.17,210.75 195,211.77 198.6,211.6 C202.2,211.43 207.95,208.77 209.7,210.3 C211.45,211.83 209.53,217.3 209.1,220.8 C208.67,224.3 208.2,227.8 207.1,231.3 C206,234.8 204.8,238.52 202.5,241.8 C200.2,245.08 196.8,247.93 193.3,251 C189.8,254.07 185.22,258.5 181.5,260.2 C177.78,261.9 174.28,260.98 171,261.2 C167.72,261.42 164.65,261.02 161.8,261.5 C158.95,261.98 156.53,263.05 153.9,264.1 C151.27,265.15 149.07,267.25 146,267.8 C142.93,268.35 139,267.47 135.5,267.4 C132,267.33 128.12,266.97 125,267.4 C121.88,267.83 119.7,268.57 116.8,270 C113.9,271.43 110.22,273.92 107.6,276 C104.98,278.08 102.95,281.08 101.1,282.5 C99.25,283.92 98.25,284.5 96.5,284.5 C94.75,284.5 92.68,283.27 90.6,282.5 C88.52,281.73 87.3,280.98 84,279.9 C80.7,278.82 75.18,277.32 70.8,276 C66.42,274.68 61.42,272.77 57.7,272 C53.98,271.23 51.07,271.42 48.5,271.4 C45.93,271.38 43.18,272.47 42.3,271.9 C41.42,271.33 42.8,269.17 43.2,268 C43.6,266.83 44.45,265.42 44.7,264.9" stroke="#111" stroke-width="1.1" fill="none" stroke-linejoin="round" stroke-linecap="round" />
<line x1="111.3" y1="206.5" x2="111.3" y2="232.5" stroke="#ee5a64" stroke-width="0.7" />
<path d="M111.3,236 L109.9,232 L112.7,232 Z" fill="#ee5a64"/>
<text x="60.7" y="202.8" font-size="9.45" text-anchor="start" fill="#ee5a64" stroke="#ee5a64" stroke-width="0.13" >Capacitive contribution</text>
<line x1="30.6" y1="178" x2="221.4" y2="178" stroke="#444" stroke-width="0.9" />
<line x1="221.4" y1="178" x2="221.4" y2="314.9" stroke="#6e6e6e" stroke-width="0.9" />
<line x1="30.6" y1="314.9" x2="221.4" y2="314.9" stroke="#333" stroke-width="0.9" />
<line x1="30.6" y1="178" x2="30.6" y2="314.9" stroke="#333" stroke-width="0.9" />
<line x1="42" y1="314.9" x2="42" y2="317.9" stroke="#333" stroke-width="0.8" />
<line x1="66" y1="314.9" x2="66" y2="317.9" stroke="#333" stroke-width="0.8" />
<line x1="90" y1="314.9" x2="90" y2="317.9" stroke="#333" stroke-width="0.8" />
<line x1="114" y1="314.9" x2="114" y2="317.9" stroke="#333" stroke-width="0.8" />
<line x1="138" y1="314.9" x2="138" y2="317.9" stroke="#333" stroke-width="0.8" />
<line x1="162" y1="314.9" x2="162" y2="317.9" stroke="#333" stroke-width="0.8" />
<line x1="186" y1="314.9" x2="186" y2="317.9" stroke="#333" stroke-width="0.8" />
<line x1="210" y1="314.9" x2="210" y2="317.9" stroke="#333" stroke-width="0.8" />
<line x1="54" y1="314.9" x2="54" y2="316.9" stroke="#333" stroke-width="0.8" />
<line x1="78" y1="314.9" x2="78" y2="316.9" stroke="#333" stroke-width="0.8" />
<line x1="102" y1="314.9" x2="102" y2="316.9" stroke="#333" stroke-width="0.8" />
<line x1="126" y1="314.9" x2="126" y2="316.9" stroke="#333" stroke-width="0.8" />
<line x1="150" y1="314.9" x2="150" y2="316.9" stroke="#333" stroke-width="0.8" />
<line x1="174" y1="314.9" x2="174" y2="316.9" stroke="#333" stroke-width="0.8" />
<line x1="198" y1="314.9" x2="198" y2="316.9" stroke="#333" stroke-width="0.8" />
<line x1="222" y1="314.9" x2="222" y2="316.9" stroke="#333" stroke-width="0.8" />
<line x1="30.6" y1="314.2" x2="27.6" y2="314.2" stroke="#333" stroke-width="0.8" />
<line x1="30.6" y1="280.2" x2="27.6" y2="280.2" stroke="#333" stroke-width="0.8" />
<line x1="30.6" y1="246.2" x2="27.6" y2="246.2" stroke="#333" stroke-width="0.8" />
<line x1="30.6" y1="212.2" x2="27.6" y2="212.2" stroke="#333" stroke-width="0.8" />
<line x1="30.6" y1="178.2" x2="27.6" y2="178.2" stroke="#333" stroke-width="0.8" />
<line x1="30.6" y1="297.2" x2="28.6" y2="297.2" stroke="#333" stroke-width="0.8" />
<line x1="30.6" y1="263.2" x2="28.6" y2="263.2" stroke="#333" stroke-width="0.8" />
<line x1="30.6" y1="229.2" x2="28.6" y2="229.2" stroke="#333" stroke-width="0.8" />
<line x1="30.6" y1="195.2" x2="28.6" y2="195.2" stroke="#333" stroke-width="0.8" />
<text transform="translate(42,327.4) scale(0.96,1)" font-size="9.9" text-anchor="middle" fill="#2a2a2a" stroke="#2a2a2a" stroke-width="0.13" >0.0</text>
<text transform="translate(66,327.4) scale(0.96,1)" font-size="9.9" text-anchor="middle" fill="#2a2a2a" stroke="#2a2a2a" stroke-width="0.13" >0.2</text>
<text transform="translate(90,327.4) scale(0.96,1)" font-size="9.9" text-anchor="middle" fill="#2a2a2a" stroke="#2a2a2a" stroke-width="0.13" >0.4</text>
<text transform="translate(114,327.4) scale(0.96,1)" font-size="9.9" text-anchor="middle" fill="#2a2a2a" stroke="#2a2a2a" stroke-width="0.13" >0.6</text>
<text transform="translate(138,327.4) scale(0.96,1)" font-size="9.9" text-anchor="middle" fill="#2a2a2a" stroke="#2a2a2a" stroke-width="0.13" >0.8</text>
<text transform="translate(162,327.4) scale(0.96,1)" font-size="9.9" text-anchor="middle" fill="#2a2a2a" stroke="#2a2a2a" stroke-width="0.13" >1.0</text>
<text transform="translate(186,327.4) scale(0.96,1)" font-size="9.9" text-anchor="middle" fill="#2a2a2a" stroke="#2a2a2a" stroke-width="0.13" >1.2</text>
<text transform="translate(210,327.4) scale(0.96,1)" font-size="9.9" text-anchor="middle" fill="#2a2a2a" stroke="#2a2a2a" stroke-width="0.13" >1.4</text>
<text transform="translate(25.6,317.2) scale(0.96,1)" font-size="9.9" text-anchor="end" fill="#2a2a2a" stroke="#2a2a2a" stroke-width="0.13" >-2</text>
<text transform="translate(25.6,283.2) scale(0.96,1)" font-size="9.9" text-anchor="end" fill="#2a2a2a" stroke="#2a2a2a" stroke-width="0.13" >-1</text>
<text transform="translate(25.6,249.2) scale(0.96,1)" font-size="9.9" text-anchor="end" fill="#2a2a2a" stroke="#2a2a2a" stroke-width="0.13" >0</text>
<text transform="translate(25.6,215.2) scale(0.96,1)" font-size="9.9" text-anchor="end" fill="#2a2a2a" stroke="#2a2a2a" stroke-width="0.13" >1</text>
<text transform="translate(25.6,181.2) scale(0.96,1)" font-size="9.9" text-anchor="end" fill="#2a2a2a" stroke="#2a2a2a" stroke-width="0.13" >2</text>
<text x="126.4" y="336.8" font-size="9.4" text-anchor="middle" fill="#2a2a2a" stroke="#2a2a2a" stroke-width="0.13" >Potential (V vs. Ag/AgCl)</text>
<text transform="translate(15.6,246.5) rotate(-90)" font-size="9.5" text-anchor="middle" fill="#2a2a2a" stroke="#2a2a2a" stroke-width="0.13" >Specific current (A g<tspan dy="-3.61" font-size="5.89">-1</tspan><tspan dy="3.61">)</tspan></text>
<text x="0.8" y="177.5" font-size="16.8" text-anchor="start" fill="#000" stroke="#000" stroke-width="0.13" >d</text>
<rect x="278" y="209.4" width="18.4" height="65.1" fill="url(#gG)"/>
<rect x="278" y="209.4" width="18.4" height="65.1" fill="url(#hatch)"/>
<rect x="278" y="274.5" width="18.4" height="40.1" fill="url(#gG)"/>
<rect x="297.4" y="209.4" width="18.4" height="61.95" fill="url(#gB)"/>
<rect x="297.4" y="209.4" width="18.4" height="61.95" fill="url(#hatch)"/>
<rect x="297.4" y="271.35" width="18.4" height="43.25" fill="url(#gB)"/>
<rect x="316.8" y="209.4" width="18.4" height="63.52" fill="url(#gR)"/>
<rect x="316.8" y="209.4" width="18.4" height="63.52" fill="url(#hatch)"/>
<rect x="316.8" y="272.92" width="18.4" height="41.68" fill="url(#gR)"/>
<rect x="355.5" y="209.4" width="18.4" height="63.52" fill="url(#gG)"/>
<rect x="355.5" y="209.4" width="18.4" height="63.52" fill="url(#hatch)"/>
<rect x="355.5" y="272.92" width="18.4" height="41.68" fill="url(#gG)"/>
<rect x="374.9" y="209.4" width="18.4" height="56.18" fill="url(#gB)"/>
<rect x="374.9" y="209.4" width="18.4" height="56.18" fill="url(#hatch)"/>
<rect x="374.9" y="265.57" width="18.4" height="49.03" fill="url(#gB)"/>
<rect x="394.3" y="209.4" width="18.4" height="62.58" fill="url(#gR)"/>
<rect x="394.3" y="209.4" width="18.4" height="62.58" fill="url(#hatch)"/>
<rect x="394.3" y="271.98" width="18.4" height="42.62" fill="url(#gR)"/>
<rect x="433" y="209.4" width="18.4" height="47.04" fill="url(#gG2)"/>
<rect x="433" y="209.4" width="18.4" height="47.04" fill="url(#hatch)"/>
<rect x="433" y="256.44" width="18.4" height="58.16" fill="url(#gG2)"/>
<rect x="452.4" y="209.4" width="18.4" height="49.25" fill="url(#gBu)"/>
<rect x="452.4" y="209.4" width="18.4" height="49.25" fill="url(#hatch)"/>
<rect x="452.4" y="258.64" width="18.4" height="55.96" fill="url(#gBu)"/>
<rect x="471.8" y="209.4" width="18.4" height="58.17" fill="url(#gR)"/>
<rect x="471.8" y="209.4" width="18.4" height="58.17" fill="url(#hatch)"/>
<rect x="471.8" y="267.57" width="18.4" height="47.03" fill="url(#gR)"/>
<rect x="510.8" y="209.4" width="18.4" height="31.6" fill="url(#gG2)"/>
<rect x="510.8" y="209.4" width="18.4" height="31.6" fill="url(#hatch)"/>
<rect x="510.8" y="241" width="18.4" height="73.6" fill="url(#gG2)"/>
<rect x="530.2" y="209.4" width="18.4" height="38.95" fill="url(#gBu)"/>
<rect x="530.2" y="209.4" width="18.4" height="38.95" fill="url(#hatch)"/>
<rect x="530.2" y="248.35" width="18.4" height="66.25" fill="url(#gBu)"/>
<rect x="549.6" y="209.4" width="18.4" height="50.82" fill="url(#gR)"/>
<rect x="549.6" y="209.4" width="18.4" height="50.82" fill="url(#hatch)"/>
<rect x="549.6" y="260.22" width="18.4" height="54.38" fill="url(#gR)"/>
<rect x="588.2" y="209.4" width="18.4" height="7.98" fill="url(#gG)"/>
<rect x="588.2" y="209.4" width="18.4" height="7.98" fill="url(#hatch)"/>
<rect x="588.2" y="217.38" width="18.4" height="97.22" fill="url(#gG)"/>
<rect x="607.6" y="209.4" width="18.4" height="17.01" fill="url(#gB)"/>
<rect x="607.6" y="209.4" width="18.4" height="17.01" fill="url(#hatch)"/>
<rect x="607.6" y="226.41" width="18.4" height="88.19" fill="url(#gB)"/>
<rect x="627" y="209.4" width="18.4" height="24.99" fill="url(#gR)"/>
<rect x="627" y="209.4" width="18.4" height="24.99" fill="url(#hatch)"/>
<rect x="627" y="234.39" width="18.4" height="80.21" fill="url(#gR)"/>
<rect x="558" y="180.6" width="21.8" height="10.2" fill="url(#gR)"/><rect x="558" y="180.6" width="21.8" height="10.2" fill="url(#hatch)"/>
<rect x="558" y="193.0" width="21.8" height="10.6" fill="url(#gR)"/>
<text x="582.4" y="189.1" font-size="9.2" text-anchor="start" fill="#2a2a2a" stroke="#2a2a2a" stroke-width="0.13" >Diffusion</text>
<text x="582.4" y="201.8" font-size="9.15" text-anchor="start" fill="#2a2a2a" stroke="#2a2a2a" stroke-width="0.13" >Capacitive</text>
<line x1="267.3" y1="177.6" x2="655.6" y2="177.6" stroke="#666" stroke-width="0.9" />
<line x1="655.6" y1="177.6" x2="655.6" y2="314.6" stroke="#555" stroke-width="0.9" />
<line x1="267.3" y1="314.6" x2="655.6" y2="314.6" stroke="#333" stroke-width="0.9" />
<line x1="267.3" y1="177.6" x2="267.3" y2="314.6" stroke="#333" stroke-width="0.9" />
<line x1="267.3" y1="314.4" x2="264.3" y2="314.4" stroke="#333" stroke-width="0.8" />
<line x1="267.3" y1="293.4" x2="264.3" y2="293.4" stroke="#333" stroke-width="0.8" />
<line x1="267.3" y1="272.4" x2="264.3" y2="272.4" stroke="#333" stroke-width="0.8" />
<line x1="267.3" y1="251.4" x2="264.3" y2="251.4" stroke="#333" stroke-width="0.8" />
<line x1="267.3" y1="230.4" x2="264.3" y2="230.4" stroke="#333" stroke-width="0.8" />
<line x1="267.3" y1="209.4" x2="264.3" y2="209.4" stroke="#333" stroke-width="0.8" />
<line x1="267.3" y1="188.4" x2="264.3" y2="188.4" stroke="#333" stroke-width="0.8" />
<line x1="267.3" y1="303.9" x2="265.3" y2="303.9" stroke="#333" stroke-width="0.8" />
<line x1="267.3" y1="282.9" x2="265.3" y2="282.9" stroke="#333" stroke-width="0.8" />
<line x1="267.3" y1="261.9" x2="265.3" y2="261.9" stroke="#333" stroke-width="0.8" />
<line x1="267.3" y1="240.9" x2="265.3" y2="240.9" stroke="#333" stroke-width="0.8" />
<line x1="267.3" y1="219.9" x2="265.3" y2="219.9" stroke="#333" stroke-width="0.8" />
<line x1="267.3" y1="198.9" x2="265.3" y2="198.9" stroke="#333" stroke-width="0.8" />
<line x1="267.3" y1="177.9" x2="265.3" y2="177.9" stroke="#333" stroke-width="0.8" />
<text transform="translate(262,317.1) scale(0.9,1)" font-size="9.3" text-anchor="end" fill="#2a2a2a" stroke="#2a2a2a" stroke-width="0.13" >0</text>
<text transform="translate(262,296.1) scale(0.9,1)" font-size="9.3" text-anchor="end" fill="#2a2a2a" stroke="#2a2a2a" stroke-width="0.13" >20</text>
<text transform="translate(262,275.1) scale(0.9,1)" font-size="9.3" text-anchor="end" fill="#2a2a2a" stroke="#2a2a2a" stroke-width="0.13" >40</text>
<text transform="translate(262,254.1) scale(0.9,1)" font-size="9.3" text-anchor="end" fill="#2a2a2a" stroke="#2a2a2a" stroke-width="0.13" >60</text>
<text transform="translate(262,233.1) scale(0.9,1)" font-size="9.3" text-anchor="end" fill="#2a2a2a" stroke="#2a2a2a" stroke-width="0.13" >80</text>
<text transform="translate(262,212.1) scale(0.9,1)" font-size="9.3" text-anchor="end" fill="#2a2a2a" stroke="#2a2a2a" stroke-width="0.13" >100</text>
<text transform="translate(262,191.1) scale(0.9,1)" font-size="9.3" text-anchor="end" fill="#2a2a2a" stroke="#2a2a2a" stroke-width="0.13" >120</text>
<line x1="306.6" y1="314.6" x2="306.6" y2="317.6" stroke="#333" stroke-width="0.8" />
<line x1="384.1" y1="314.6" x2="384.1" y2="317.6" stroke="#333" stroke-width="0.8" />
<line x1="461.6" y1="314.6" x2="461.6" y2="317.6" stroke="#333" stroke-width="0.8" />
<line x1="539.4" y1="314.6" x2="539.4" y2="317.6" stroke="#333" stroke-width="0.8" />
<line x1="616.8" y1="314.6" x2="616.8" y2="317.6" stroke="#333" stroke-width="0.8" />
<text transform="translate(307,325.6) scale(0.9,1)" font-size="9.3" text-anchor="middle" fill="#2a2a2a" stroke="#2a2a2a" stroke-width="0.13" >1</text>
<text transform="translate(384.5,325.6) scale(0.9,1)" font-size="9.3" text-anchor="middle" fill="#2a2a2a" stroke="#2a2a2a" stroke-width="0.13" >5</text>
<text transform="translate(462,325.6) scale(0.9,1)" font-size="9.3" text-anchor="middle" fill="#2a2a2a" stroke="#2a2a2a" stroke-width="0.13" >10</text>
<text transform="translate(539.8,325.6) scale(0.9,1)" font-size="9.3" text-anchor="middle" fill="#2a2a2a" stroke="#2a2a2a" stroke-width="0.13" >20</text>
<text transform="translate(617.2,325.6) scale(0.9,1)" font-size="9.3" text-anchor="middle" fill="#2a2a2a" stroke="#2a2a2a" stroke-width="0.13" >50</text>
<text x="461.5" y="337" font-size="9.0" text-anchor="middle" fill="#2a2a2a" stroke="#2a2a2a" stroke-width="0.13" >Scan rate (mV s<tspan dy="-3.42" font-size="5.58">-1</tspan><tspan dy="3.42">)</tspan></text>
<text transform="translate(244.6,235.5) rotate(-90)" font-size="9.0" text-anchor="middle" fill="#2a2a2a" stroke="#2a2a2a" stroke-width="0.13" >Contribution (%)</text>
<text x="228.6" y="176" font-size="16.8" text-anchor="start" fill="#000" stroke="#000" stroke-width="0.13" >e</text>
<path d="M34.4,446.27 L35.91,446.43 L37.41,446.36 L38.92,446.49 L40.42,446.51 L41.93,446.24 L43.44,446.23 L44.94,446.65 L46.45,446.37 L47.95,446.37 L49.46,446.77 L50.96,446.51 L52.47,446.71 L53.98,446.54 L55.48,446.63 L56.99,446.4 L58.49,446.66 L60,446.78 L61.54,446.64 L63.08,446.78 L64.62,446.78 L66.15,446.51 L67.69,446.88 L69.23,446.83 L70.77,446.72 L72.31,446.61 L73.85,447.06 L75.38,446.89 L76.92,447.05 L78.46,447.16 L80,447.11 L81.54,447.24 L83.08,447.01 L84.62,447.24 L86.15,447.1 L87.69,447.37 L89.23,447.37 L90.77,447.01 L92.31,447.06 L93.85,447.14 L95.38,447.54 L96.92,447.31 L98.46,447.43 L100,447.3 L101.5,447.45 L103,447.43 L104.5,447.46 L106,447.62 L107.5,447.67 L109,447.87 L110.5,447.81 L112,447.97 L113.5,447.98 L115,448.1 L116.5,447.98 L118,447.77 L119.5,448.17 L121,448.26 L122.5,448.28 L124,448.15 L125.5,448.27 L127,448.07 L128.5,448.42 L130,448.34 L131.53,448.19 L133.06,448.08 L134.6,448.48 L136.13,448.54 L137.66,448.09 L139.19,448.45 L140.73,448.26 L142.26,448.13 L143.79,448.2 L145.32,448.43 L146.86,448.49 L148.39,448.07 L149.92,448.36 L151.46,448.07 L152.99,448.41 L154.52,448.22 L156.05,448.49 L157.59,448.54 L159.12,448.3 L160.65,448.55 L162.18,448.2 L163.72,448.09 L165.25,448.35 L166.78,448.07 L168.31,448.15 L169.84,448.25 L171.38,448.36 L172.91,448.13 L174.44,448.07 L175.98,448.48 L177.51,448.21 L179.04,448.53 L180.57,448.5 L182.11,448.24 L183.64,448.28 L185.17,448.31 L186.7,448.37 L188.24,448.35 L189.77,448.33 L191.3,448.36 L193.27,449.15 L195.23,449.57 L197.2,450.17 L198.9,450.06 L200.6,449.57 L202.3,449.35 L204,449.44 L205.7,448.96 L207.4,448.72 L209.22,449.08 L211.05,449.91 L212.88,450.61 L214.7,450.96 L216.52,451.26 L218.35,451.27 L220.18,450.98 L222,451.26 L223.6,451.32 L225.2,451.57 L226.8,451.55 L228.4,451.86 L230,452.02 L231.76,451.44 L233.52,451.24 L235.28,451.33 L237.04,451.25 L238.8,450.68 L240.54,451.3 L242.28,451.89 L244.02,452.27 L245.76,452.81 L247.5,453.31 L249.26,453.19 L251.02,453.17 L252.78,452.88 L254.54,452.78 L256.3,452.84 L258,452.58 L259.7,452.97 L261.4,453.17 L263.1,453.07 L264.8,453.14 L266.5,453.55 L268.32,453.64 L270.15,453.99 L271.98,454.49 L273.8,455 L275.42,454.78 L277.04,454.97 L278.67,455.05 L280.29,455.38 L281.91,455.26 L283.53,455.54 L285.16,455.28 L286.78,455.44 L288.4,455.68 L290.22,456.52 L292.05,457.03 L293.88,457.64 L295.7,458.31 L297.37,458.51 L299.04,458.35 L300.71,458.65 L302.39,458.67 L304.06,458.34 L305.73,458.39 L307.4,458.65 L309.04,458.38 L310.67,458.28 L312.31,457.86 L313.95,457.56 L315.59,457.46 L317.23,457.52 L318.86,457.07 L320.5,456.92 L322.08,457.21 L323.67,457.46 L325.25,457.7 L326.83,458.21 L328.42,458.08 L330,458.25 L331.64,459.08 L333.27,459.41 L334.91,459.83 L336.55,459.92 L338.19,460.54 L339.83,460.89 L341.46,460.9 L343.1,461.52 L344.86,461.13 L346.62,460.6 L348.38,460.09 L350.14,459.53 L351.9,459.12 L353.52,459.23 L355.14,459.32 L356.77,459.74 L358.39,459.76 L360.01,460.19 L361.63,459.97 L363.26,460.57 L364.88,460.63 L366.5,460.91 L368.32,460.72 L370.15,460.55 L371.98,460.21 L373.8,459.76 L375.5,460.29 L377.2,460.17 L378.9,460.4 L380.6,460.75 L382.3,460.85 L384,460.96 L385.82,462.04 L387.65,462.71 L389.48,463.4 L391.3,464.18 L393.12,464.76 L394.95,464.84 L396.78,465.27 L398.6,465.33 L400.36,465.91 L402.12,466.74 L403.88,467.54 L405.64,467.88 L407.4,468.85 L408.91,469.25 L410.42,469.53 L411.93,469.87 L413.44,469.8 L414.95,470.45 L416.45,470.9 L417.96,470.83 L419.47,471.28 L420.98,471.61 L422.49,472.08 L424,472.4" stroke="#737373" stroke-width="3.3" fill="none" stroke-linejoin="round" stroke-linecap="round" />
<path d="M34.4,424.96 L35.91,425.02 L37.41,425.21 L38.92,424.86 L40.42,424.92 L41.93,424.99 L43.44,425.02 L44.94,425.03 L46.45,425.52 L47.95,425.49 L49.46,425.15 L50.96,425.39 L52.47,425.33 L53.98,425.37 L55.48,425.42 L56.99,425.6 L58.49,425.61 L60,425.53 L61.5,425.56 L63,425.74 L64.5,425.75 L66,426.08 L67.5,426.27 L69,426.22 L70.5,426.18 L72,426.34 L73.5,426.55 L75,426.78 L76.5,426.98 L78,426.89 L79.5,427.21 L81,427.24 L82.5,427.25 L84,427.34 L85.67,427.26 L87.33,427.23 L89,426.96 L90.67,426.96 L92.33,426.71 L94,426.47 L95.6,426.72 L97.2,426.9 L98.8,426.69 L100.4,426.96 L102,427.06 L103.6,427.39 L105.2,427.52 L106.8,427.34 L108.4,427.7 L110,427.75 L111.67,427.58 L113.33,427.78 L115,427.71 L116.67,428.16 L118.33,428.18 L120,428.39 L121.67,428.21 L123.33,428.02 L125,427.92 L126.67,427.7 L128.33,427.33 L130,427.44 L131.5,427.16 L133.01,427.25 L134.51,427.57 L136.01,427.22 L137.51,427.25 L139.02,427.27 L140.52,427.67 L142.02,427.33 L143.53,427.27 L145.03,427.69 L146.53,427.34 L148.04,427.71 L149.54,427.64 L151.04,427.73 L152.54,427.8 L154.05,427.63 L155.55,427.75 L157.05,427.38 L158.56,427.76 L160.06,427.64 L161.56,427.75 L163.06,427.46 L164.57,427.8 L166.07,427.9 L167.57,427.47 L169.08,427.62 L170.58,427.75 L172.08,427.89 L173.59,427.61 L175.09,427.59 L176.59,427.64 L178.09,427.83 L179.6,427.92 L181.1,427.75 L182.77,428.01 L184.44,428.29 L186.11,428.54 L187.79,428.84 L189.46,428.95 L191.13,429.43 L192.8,429.94 L194.5,429.42 L196.2,429.36 L197.9,428.83 L199.6,428.86 L201.3,428.66 L203,428.39 L204.5,428.36 L206,428.4 L207.5,428.54 L209,428.72 L210.5,428.4 L212,428.43 L213.5,428.81 L215,428.95 L216.5,428.81 L218,428.83 L219.5,429.02 L221,428.81 L222.5,428.91 L224,428.93 L225.5,429.18 L227,429.1 L228.5,429.11 L230,429.4 L231.93,429.53 L233.87,429.2 L235.8,429.4 L237.56,430.28 L239.32,431.52 L241.08,432.4 L242.84,433.26 L244.6,434.26 L246.3,434.64 L248,435.36 L249.7,435.79 L251.4,436.17 L253.1,436.75 L254.8,437.21 L256.45,437.31 L258.1,436.87 L259.75,437.17 L261.4,436.79 L263.05,436.72 L264.7,436.53 L266.35,436.59 L268,436.46 L269.66,436.47 L271.31,436.58 L272.97,436.84 L274.63,437.05 L276.29,436.96 L277.94,437.27 L279.6,437.53 L281.36,437.88 L283.12,438.36 L284.88,438.97 L286.64,439.81 L288.4,440.39 L290.02,440.5 L291.64,440.41 L293.27,440.07 L294.89,440.01 L296.51,440.01 L298.13,439.94 L299.76,440.17 L301.38,440.21 L303,440.2 L304.67,439.81 L306.34,440.04 L308.01,439.69 L309.69,439.68 L311.36,439.76 L313.03,439.36 L314.7,439.3 L316.44,440.41 L318.18,440.88 L319.92,441.65 L321.66,442.5 L323.4,443.29 L325.05,442.95 L326.7,443.12 L328.35,443.17 L330,443.19 L332.2,442.66 L334.4,442.44 L336.1,443.36 L337.8,443.81 L339.5,444.62 L341.2,445.14 L342.9,445.95 L344.6,446.88 L346.36,446.17 L348.12,446.11 L349.88,445.68 L351.64,444.84 L353.4,444.82 L355.14,445.08 L356.88,445.82 L358.62,446.35 L360.36,446.66 L362.1,447.39 L363.86,447 L365.62,446.69 L367.38,446.04 L369.14,445.91 L370.9,445.63 L372.6,445.97 L374.3,446.38 L376,446.66 L377.7,447.33 L379.4,447.74 L381.1,448.41 L383.03,448.39 L384.97,448.33 L386.9,448.14 L388.62,448.97 L390.33,449.57 L392.05,449.94 L393.77,450.89 L395.48,451.38 L397.2,451.71 L398.9,451.75 L400.6,450.99 L402.3,450.72 L404,450.54 L405.7,450.12 L407.4,449.73 L408.91,450.25 L410.42,450.62 L411.93,451.02 L413.44,451.43 L414.95,451.85 L416.45,452.64 L417.96,453.14 L419.47,453.5 L420.98,454.07 L422.49,454.36 L424,454.9" stroke="#5a68ff" stroke-width="3.3" fill="none" stroke-linejoin="round" stroke-linecap="round" />
<path d="M34.4,394.28 L35.91,394.38 L37.41,394.66 L38.92,394.28 L40.42,394.54 L41.93,394.45 L43.44,394.75 L44.94,394.57 L46.45,394.6 L47.95,394.67 L49.46,394.77 L50.96,394.92 L52.47,394.75 L53.98,395.03 L55.48,394.7 L56.99,394.81 L58.49,394.76 L60,394.81 L61.5,395.39 L63,395.61 L64.5,395.59 L66,395.84 L67.5,396.21 L69,396.62 L70.5,396.91 L72,397.12 L73.6,396.93 L75.2,396.58 L76.8,396.59 L78.4,396.37 L80,396.41 L81.5,396.46 L83,396.3 L84.5,396.35 L86,396.64 L87.5,396.29 L89,396.7 L90.5,396.77 L92,396.82 L93.6,396.82 L95.2,397.19 L96.8,397.48 L98.4,397.79 L100,398.24 L101.5,398.29 L103,398.3 L104.5,398.78 L106,398.79 L107.5,399.05 L109,399.31 L110.5,399.15 L112,399.74 L113.5,399.61 L115,399.45 L116.5,399.39 L118,399.28 L119.5,399.07 L121,399.16 L122.5,398.84 L124,399 L125.5,399.4 L127,399.62 L128.5,400.01 L130,400.53 L131.55,400.42 L133.1,399.97 L134.65,400.22 L136.2,400.06 L137.75,399.7 L139.3,399.78 L140.85,399.64 L142.4,399.49 L143.95,399.64 L145.5,399.76 L147.05,399.39 L148.6,399.59 L150.15,399.42 L151.7,399.07 L153.25,399.35 L154.8,399.15 L156.38,399.46 L157.97,399.49 L159.55,399.64 L161.13,399.59 L162.72,399.96 L164.3,400.17 L165.88,400.27 L167.47,400.2 L169.05,400.5 L170.63,400.51 L172.22,400.46 L173.8,400.57 L175.39,400.75 L176.98,400.98 L178.57,401.12 L180.16,401.45 L181.75,401.72 L183.35,401.8 L184.94,401.91 L186.53,402.18 L188.12,402.18 L189.71,402.42 L191.3,402.73 L192.91,402.4 L194.52,402.14 L196.13,402.35 L197.74,402.11 L199.35,401.78 L200.96,401.64 L202.57,401.56 L204.18,401.45 L205.79,401.11 L207.4,400.85 L208.91,401.18 L210.41,401.69 L211.92,401.6 L213.43,401.99 L214.93,402.08 L216.44,402.31 L217.95,402.52 L219.45,402.87 L220.96,402.97 L222.47,403.13 L223.97,403.4 L225.48,403.65 L226.99,404.04 L228.49,404.05 L230,404.26 L231.57,404.36 L233.14,404.22 L234.71,404.26 L236.28,403.81 L237.85,403.87 L239.42,403.76 L240.98,403.46 L242.55,403.81 L244.12,403.32 L245.69,403.14 L247.26,403.22 L248.83,402.95 L250.4,403.06 L251.96,403.02 L253.52,403.01 L255.08,403.08 L256.64,403.51 L258.2,403.39 L259.76,403.74 L261.32,403.68 L262.88,404.02 L264.44,403.8 L266,403.87 L267.56,403.98 L269.12,404.36 L270.68,404.36 L272.24,404.32 L273.8,404.3 L275.42,404.67 L277.04,404.89 L278.67,404.78 L280.29,404.56 L281.91,404.65 L283.53,404.76 L285.16,404.88 L286.78,404.89 L288.4,404.98 L290.02,405.31 L291.64,405.47 L293.27,405.15 L294.89,405.57 L296.51,405.36 L298.13,405.55 L299.76,405.64 L301.38,405.69 L303,405.27 L304.62,405.5 L306.24,405.75 L307.87,406.02 L309.49,405.69 L311.11,405.9 L312.73,406.27 L314.36,406.01 L315.98,406.24 L317.6,406.32 L319.15,406.38 L320.7,406.39 L322.25,405.9 L323.8,406.07 L325.35,405.95 L326.9,405.89 L328.45,405.64 L330,405.71 L331.5,405.63 L333,405.86 L334.5,405.96 L336,406.44 L337.5,406.49 L339,406.58 L340.54,406.42 L342.08,406.58 L343.62,406.41 L345.15,406.34 L346.69,406.07 L348.23,406 L349.77,405.72 L351.31,405.88 L352.85,405.42 L354.38,405.53 L355.92,405.56 L357.46,405.4 L359,405 L360.73,405.12 L362.47,405.47 L364.2,405.42 L365.93,405.59 L367.67,405.64 L369.4,405.47 L371.37,406.33 L373.33,406.88 L375.3,407.32 L377,407.7 L378.7,407.92 L380.4,408.45 L382.1,409.09 L383.8,409.04 L385.5,409.63 L387.2,409.29 L388.9,409.16 L390.6,409.32 L392.3,409 L394,408.79 L395.7,408.73 L397.32,408.97 L398.94,408.94 L400.57,408.66 L402.19,408.76 L403.81,409.13 L405.43,408.76 L407.06,408.93 L408.68,408.86 L410.3,409.04 L411.82,409.07 L413.34,409.29 L414.87,409.28 L416.39,409.23 L417.91,409.35 L419.43,409.42 L420.96,409.92 L422.48,409.68 L424,410" stroke="#ec5c66" stroke-width="3.3" fill="none" stroke-linejoin="round" stroke-linecap="round" />
<path d="M34.4,369.67 L36.41,370.33 L38.42,369.79 L40.42,370.28 L42.43,369.71 L44.44,369.98 L46.45,369.81 L48.46,370.23 L50.47,370.08 L52.47,370.1 L54.48,370.18 L56.49,370.26 L58.5,369.89 L60.51,370.07 L62.52,369.96 L64.52,369.73 L66.53,370.23 L68.54,370.07 L70.55,370.22 L72.56,369.79 L74.56,370.03 L76.57,369.97 L78.58,370.16 L80.59,369.7 L82.6,369.89 L84.61,369.99 L86.61,369.7 L88.62,370.04 L90.63,370.16 L92.64,369.95 L94.65,370.1 L96.66,370.07 L98.66,369.8 L100.67,369.9 L102.68,370.35 L104.69,369.88 L106.7,369.95 L108.71,369.71 L110.71,369.8 L112.72,369.77 L114.73,370.3 L116.74,370.16 L118.75,370.26 L120.75,370.34 L122.76,370.08 L124.77,370.3 L126.78,370.03 L128.79,369.94 L130.8,370.31 L132.8,370.28 L134.81,370.31 L136.82,369.99 L138.83,370.19 L140.84,369.93 L142.85,370.35 L144.85,370.29 L146.86,369.85 L148.87,370.3 L150.88,369.78 L152.89,369.72 L154.89,370.16 L156.9,369.86 L158.91,370.01 L160.92,370.1 L162.93,369.68 L164.94,370.17 L166.94,369.84 L168.95,369.95 L170.96,369.89 L172.97,370.17 L174.98,370.17 L176.99,369.85 L178.99,369.72 L181,369.86 L183.01,369.94 L185.02,369.7 L187.03,369.76 L189.04,370.18 L191.04,370.14 L193.05,370.33 L195.06,370.34 L197.07,370.26 L199.08,369.91 L201.08,369.76 L203.09,369.87 L205.1,369.97 L207.11,370.02 L209.12,370.03 L211.13,369.9 L213.13,370.25 L215.14,369.85 L217.15,369.97 L219.16,370.27 L221.17,370.21 L223.18,369.86 L225.18,369.82 L227.19,370.21 L229.2,369.66 L231.21,369.74 L233.22,370.02 L235.22,370.03 L237.23,369.77 L239.24,369.69 L241.25,369.79 L243.26,370.19 L245.27,369.98 L247.27,370.34 L249.28,370.2 L251.29,370.34 L253.3,369.67 L255.31,369.78 L257.32,369.66 L259.32,369.95 L261.33,369.89 L263.34,369.69 L265.35,370.03 L267.36,369.72 L269.36,369.87 L271.37,369.82 L273.38,370.21 L275.39,369.94 L277.4,369.83 L279.41,369.68 L281.41,369.95 L283.42,370.09 L285.43,370.12 L287.44,370.29 L289.45,370.22 L291.46,369.82 L293.46,369.74 L295.47,370.18 L297.48,370.2 L299.49,370.01 L301.5,370.23 L303.51,370.04 L305.51,369.85 L307.52,369.77 L309.53,369.66 L311.54,370.1 L313.55,370.28 L315.55,370.28 L317.56,369.98 L319.57,370.12 L321.58,370.3 L323.59,370.22 L325.6,370.07 L327.6,369.94 L329.61,370.01 L331.62,369.77 L333.63,369.78 L335.64,370.13 L337.65,370.34 L339.65,370.03 L341.66,369.94 L343.67,369.9 L345.68,369.97 L347.69,370.21 L349.69,369.97 L351.7,370.32 L353.71,369.76 L355.72,369.87 L357.73,370.02 L359.74,369.94 L361.74,370.25 L363.75,370.23 L365.76,370.3 L367.77,370.08 L369.78,369.67 L371.79,370.05 L373.79,370.03 L375.8,369.99 L377.81,369.85 L379.82,370.15 L381.83,370.29 L383.84,369.72 L385.84,370.12 L387.85,369.91 L389.86,370.01 L391.87,370.28 L393.88,370.32 L395.88,370.1 L397.89,369.79 L399.9,370.29 L401.91,369.78 L403.92,369.92 L405.93,370.23 L407.93,369.87 L409.94,369.84 L411.95,370.31 L413.96,370.31 L415.97,369.87 L417.98,369.92 L419.98,369.85 L421.99,369.74 L424,370" stroke="#737373" stroke-width="3.2" fill="none" stroke-linejoin="round" stroke-linecap="round" />
<path d="M34.4,366.93 L36.41,367.44 L38.42,366.81 L40.42,366.91 L42.43,366.89 L44.44,366.81 L46.45,367.12 L48.46,367.27 L50.47,367.34 L52.47,367.19 L54.48,367.32 L56.49,366.75 L58.5,366.95 L60.51,367.42 L62.52,366.8 L64.52,366.94 L66.53,367.09 L68.54,366.94 L70.55,367.13 L72.56,366.78 L74.56,366.92 L76.57,367.42 L78.58,366.85 L80.59,367.38 L82.6,366.87 L84.61,367.44 L86.61,367.22 L88.62,367.2 L90.63,366.85 L92.64,366.79 L94.65,367.28 L96.66,366.87 L98.66,366.88 L100.67,367.33 L102.68,367.36 L104.69,366.78 L106.7,367.42 L108.71,367.12 L110.71,367.02 L112.72,366.82 L114.73,367.02 L116.74,367.44 L118.75,366.95 L120.75,366.84 L122.76,366.85 L124.77,366.84 L126.78,367 L128.79,367.39 L130.8,366.8 L132.8,366.88 L134.81,367.41 L136.82,367.45 L138.83,367.44 L140.84,366.92 L142.85,367 L144.85,367.42 L146.86,367.09 L148.87,367.24 L150.88,366.97 L152.89,366.76 L154.89,366.99 L156.9,367.27 L158.91,367.3 L160.92,367.15 L162.93,367.07 L164.94,367.13 L166.94,367.06 L168.95,367.12 L170.96,367.33 L172.97,366.89 L174.98,367.17 L176.99,367.4 L178.99,367.34 L181,366.88 L183.01,367.42 L185.02,367.34 L187.03,366.87 L189.04,366.94 L191.04,366.89 L193.05,366.79 L195.06,367.43 L197.07,367.04 L199.08,367.36 L201.08,366.83 L203.09,366.76 L205.1,367.36 L207.11,367.31 L209.12,367.44 L211.13,367.23 L213.13,367.12 L215.14,367.29 L217.15,366.81 L219.16,367.13 L221.17,367.06 L223.18,366.85 L225.18,367.17 L227.19,366.98 L229.2,367.1 L231.21,367.01 L233.22,366.97 L235.22,367 L237.23,367.17 L239.24,367.44 L241.25,367.41 L243.26,367.35 L245.27,367.33 L247.27,366.95 L249.28,367.43 L251.29,366.94 L253.3,366.84 L255.31,367.1 L257.32,367.26 L259.32,366.99 L261.33,367.2 L263.34,366.95 L265.35,367.43 L267.36,367.07 L269.36,367.08 L271.37,367.12 L273.38,367.36 L275.39,367.44 L277.4,367.12 L279.41,367.06 L281.41,367.18 L283.42,366.8 L285.43,367.05 L287.44,367.34 L289.45,367.29 L291.46,366.79 L293.46,367.35 L295.47,367.02 L297.48,367.44 L299.49,367.01 L301.5,366.9 L303.51,367.13 L305.51,367.37 L307.52,367.05 L309.53,367.36 L311.54,367.25 L313.55,367 L315.55,366.96 L317.56,367.1 L319.57,367.03 L321.58,367.01 L323.59,367.21 L325.6,367.36 L327.6,367.16 L329.61,366.85 L331.62,366.9 L333.63,367.01 L335.64,367.18 L337.65,366.85 L339.65,366.81 L341.66,366.97 L343.67,366.95 L345.68,366.77 L347.69,367.13 L349.69,367.39 L351.7,367.12 L353.71,367.27 L355.72,367.33 L357.73,367.34 L359.74,367.39 L361.74,367.06 L363.75,367.23 L365.76,366.83 L367.77,367.37 L369.78,367.01 L371.79,367.08 L373.79,367.37 L375.8,366.95 L377.81,366.88 L379.82,367.33 L381.83,367.17 L383.84,366.81 L385.84,366.77 L387.85,367 L389.86,366.76 L391.87,367.33 L393.88,366.88 L395.88,366.94 L397.89,367.02 L399.9,367.11 L401.91,367.05 L403.92,367.19 L405.93,367.21 L407.93,367.06 L409.94,366.82 L411.95,367.44 L413.96,367.23 L415.97,366.81 L417.98,367.06 L419.98,367.28 L421.99,367.44 L424,367.1" stroke="#5a68ff" stroke-width="3.6" fill="none" stroke-linejoin="round" stroke-linecap="round" />
<path d="M34.4,363 L36.41,362.96 L38.42,363.29 L40.42,363.25 L42.43,363.58 L44.44,363.53 L46.45,363.18 L48.46,363.24 L50.47,363.36 L52.47,363.57 L54.48,363.09 L56.49,363.22 L58.5,363.01 L60.51,363.4 L62.52,362.97 L64.52,363.6 L66.53,363.32 L68.54,363.35 L70.55,363.01 L72.56,363.11 L74.56,363.28 L76.57,363.55 L78.58,363.33 L80.59,363.15 L82.6,363.64 L84.61,363.41 L86.61,363.32 L88.62,363.09 L90.63,363.16 L92.64,363.58 L94.65,363.04 L96.66,363.32 L98.66,363.38 L100.67,363.2 L102.68,363.49 L104.69,363.59 L106.7,363.55 L108.71,363.47 L110.71,363.09 L112.72,362.99 L114.73,363.25 L116.74,363.17 L118.75,363.09 L120.75,363.56 L122.76,363.1 L124.77,363.53 L126.78,363.61 L128.79,363.03 L130.8,363.59 L132.8,363.23 L134.81,363.1 L136.82,363.08 L138.83,362.98 L140.84,363.3 L142.85,363.22 L144.85,363.55 L146.86,363.53 L148.87,362.99 L150.88,363.23 L152.89,363.22 L154.89,363.07 L156.9,363.13 L158.91,363.13 L160.92,363.44 L162.93,363.19 L164.94,363.03 L166.94,363.1 L168.95,363.26 L170.96,363.35 L172.97,363.12 L174.98,363.44 L176.99,363.1 L178.99,363.42 L181,363.38 L183.01,363.07 L185.02,363.48 L187.03,363.23 L189.04,363.33 L191.04,363.37 L193.05,363.39 L195.06,363.26 L197.07,362.99 L199.08,363.5 L201.08,363.55 L203.09,363.29 L205.1,363.36 L207.11,363.14 L209.12,363.58 L211.13,363.43 L213.13,363.11 L215.14,363.52 L217.15,363.64 L219.16,363.19 L221.17,363.65 L223.18,363.29 L225.18,363.08 L227.19,363.45 L229.2,363.19 L231.21,363.46 L233.22,363.36 L235.22,363.03 L237.23,363.32 L239.24,363.55 L241.25,363.28 L243.26,363.33 L245.27,363.55 L247.27,363.26 L249.28,363.29 L251.29,363.36 L253.3,363.53 L255.31,363.09 L257.32,363.02 L259.32,363.48 L261.33,363.34 L263.34,363.16 L265.35,363.57 L267.36,363.57 L269.36,363.33 L271.37,363.64 L273.38,363.54 L275.39,363.47 L277.4,363.15 L279.41,362.96 L281.41,363.43 L283.42,363.46 L285.43,363.2 L287.44,363.29 L289.45,363.35 L291.46,363.12 L293.46,363.44 L295.47,363.34 L297.48,363.22 L299.49,363.03 L301.5,363.34 L303.51,363.17 L305.51,363.46 L307.52,363.07 L309.53,363.23 L311.54,363.09 L313.55,363.24 L315.55,363.35 L317.56,363.02 L319.57,362.99 L321.58,363.29 L323.59,363.09 L325.6,363.3 L327.6,363.07 L329.61,363.02 L331.62,363.33 L333.63,363.6 L335.64,363.56 L337.65,363.31 L339.65,363.23 L341.66,363 L343.67,363.14 L345.68,363.17 L347.69,363.61 L349.69,363.03 L351.7,363.61 L353.71,363.28 L355.72,363.25 L357.73,363.13 L359.74,363.62 L361.74,363.08 L363.75,363.35 L365.76,363.31 L367.77,363.09 L369.78,363.11 L371.79,363.64 L373.79,363.5 L375.8,363.46 L377.81,363.58 L379.82,363.02 L381.83,363.44 L383.84,363.48 L385.84,363.11 L387.85,363.27 L389.86,363.63 L391.87,363.18 L393.88,363.48 L395.88,363.07 L397.89,363.42 L399.9,363.14 L401.91,363.31 L403.92,363.21 L405.93,363.56 L407.93,363.47 L409.94,363.3 L411.95,363.43 L413.96,363.25 L415.97,363.51 L417.98,363.13 L419.98,363.33 L421.99,363.36 L424,363.3" stroke="#ec5c66" stroke-width="3.8" fill="none" stroke-linejoin="round" stroke-linecap="round" />
<circle cx="34.8" cy="369.3" r="1.5" fill="#fff" stroke="#ec5c66" stroke-width="0.6"/>
<circle cx="34.8" cy="389.8" r="1.6" fill="#fff" stroke="#8a96ff" stroke-width="0.5"/>
<circle cx="34.8" cy="417.6" r="1.6" fill="#fff" stroke="#aaa" stroke-width="0.5"/>
<circle cx="424.2" cy="362.8" r="1.5" fill="#fff" stroke="#ec5c66" stroke-width="0.6"/>
<circle cx="424.2" cy="367.0" r="1.5" fill="#fff" stroke="#5a68ff" stroke-width="0.6"/>
<path d="M403.6,373.4 Q412,380 422.6,380" stroke="#555" stroke-width="0.7" fill="none" stroke-linejoin="round" stroke-linecap="round" />
<path d="M426,380 L421.8,378.4 L421.8,381.6 Z" fill="#555"/>
<text transform="translate(260.4,399.4) scale(0.892,1)" font-size="8.8" text-anchor="start" fill="#ec4c58" stroke="#ec4c58" stroke-width="0.13" >N3, 25°C, after 20000 cycles, 82.9%</text>
<text transform="translate(262.4,431.8) scale(0.892,1)" font-size="8.8" text-anchor="start" fill="#4a5aff" stroke="#4a5aff" stroke-width="0.13" >N2, 25°C, after 20000 cycles, 51.3%</text>
<text transform="translate(259.6,472.4) scale(0.892,1)" font-size="8.8" text-anchor="start" fill="#666" stroke="#666" stroke-width="0.13" >N1, 25°C, after 20000 cycles, 34.8%</text>
<circle cx="52.8" cy="458.2" r="1.8" fill="#555" />
<text transform="translate(64.8,461.1) scale(0.88,1)" font-size="8.2" text-anchor="start" fill="#555" stroke="#555" stroke-width="0.13" >N1</text>
<circle cx="52.8" cy="468.6" r="1.8" fill="#4a5aff" />
<text transform="translate(64.8,471.5) scale(0.88,1)" font-size="8.2" text-anchor="start" fill="#4a5aff" stroke="#4a5aff" stroke-width="0.13" >N2</text>
<circle cx="52.8" cy="479" r="1.8" fill="#ec4c58" />
<text transform="translate(64.8,481.9) scale(0.88,1)" font-size="8.2" text-anchor="start" fill="#ec4c58" stroke="#ec4c58" stroke-width="0.13" >N3</text>
<line x1="30.6" y1="350.4" x2="428.4" y2="350.4" stroke="#444" stroke-width="0.9" />
<line x1="428.4" y1="350.4" x2="428.4" y2="486.4" stroke="#999" stroke-width="0.9" />
<line x1="30.6" y1="486.4" x2="428.4" y2="486.4" stroke="#333" stroke-width="0.9" />
<line x1="30.6" y1="350.4" x2="30.6" y2="486.4" stroke="#333" stroke-width="0.9" />
<line x1="34.4" y1="486.4" x2="34.4" y2="489" stroke="#333" stroke-width="0.8" />
<line x1="132.01" y1="486.4" x2="132.01" y2="489" stroke="#333" stroke-width="0.8" />
<line x1="229.62" y1="486.4" x2="229.62" y2="489" stroke="#333" stroke-width="0.8" />
<line x1="327.23" y1="486.4" x2="327.23" y2="489" stroke="#333" stroke-width="0.8" />
<line x1="424.84" y1="486.4" x2="424.84" y2="489" stroke="#333" stroke-width="0.8" />
<line x1="83.2" y1="486.4" x2="83.2" y2="488.2" stroke="#333" stroke-width="0.8" />
<line x1="180.82" y1="486.4" x2="180.82" y2="488.2" stroke="#333" stroke-width="0.8" />
<line x1="278.43" y1="486.4" x2="278.43" y2="488.2" stroke="#333" stroke-width="0.8" />
<line x1="376.04" y1="486.4" x2="376.04" y2="488.2" stroke="#333" stroke-width="0.8" />
<line x1="30.6" y1="486.6" x2="28" y2="486.6" stroke="#333" stroke-width="0.8" />
<line x1="30.6" y1="471.4" x2="28" y2="471.4" stroke="#333" stroke-width="0.8" />
<line x1="30.6" y1="456.2" x2="28" y2="456.2" stroke="#333" stroke-width="0.8" />
<line x1="30.6" y1="441" x2="28" y2="441" stroke="#333" stroke-width="0.8" />
<line x1="30.6" y1="425.8" x2="28" y2="425.8" stroke="#333" stroke-width="0.8" />
<line x1="30.6" y1="410.6" x2="28" y2="410.6" stroke="#333" stroke-width="0.8" />
<line x1="30.6" y1="395.4" x2="28" y2="395.4" stroke="#333" stroke-width="0.8" />
<line x1="30.6" y1="380.2" x2="28" y2="380.2" stroke="#333" stroke-width="0.8" />
<line x1="30.6" y1="365" x2="28" y2="365" stroke="#333" stroke-width="0.8" />
<line x1="30.6" y1="349.8" x2="28" y2="349.8" stroke="#333" stroke-width="0.8" />
<line x1="30.6" y1="479" x2="29.4" y2="479" stroke="#333" stroke-width="0.8" />
<line x1="30.6" y1="463.8" x2="29.4" y2="463.8" stroke="#333" stroke-width="0.8" />
<line x1="30.6" y1="448.6" x2="29.4" y2="448.6" stroke="#333" stroke-width="0.8" />
<line x1="30.6" y1="433.4" x2="29.4" y2="433.4" stroke="#333" stroke-width="0.8" />
<line x1="30.6" y1="418.2" x2="29.4" y2="418.2" stroke="#333" stroke-width="0.8" />
<line x1="30.6" y1="403" x2="29.4" y2="403" stroke="#333" stroke-width="0.8" />
<line x1="30.6" y1="387.8" x2="29.4" y2="387.8" stroke="#333" stroke-width="0.8" />
<line x1="30.6" y1="372.6" x2="29.4" y2="372.6" stroke="#333" stroke-width="0.8" />
<line x1="30.6" y1="357.4" x2="29.4" y2="357.4" stroke="#333" stroke-width="0.8" />
<line x1="428.4" y1="425.98" x2="431" y2="425.98" stroke="#999" stroke-width="0.8" />
<line x1="428.4" y1="415.04" x2="431" y2="415.04" stroke="#999" stroke-width="0.8" />
<line x1="428.4" y1="404.1" x2="431" y2="404.1" stroke="#999" stroke-width="0.8" />
<line x1="428.4" y1="393.16" x2="431" y2="393.16" stroke="#999" stroke-width="0.8" />
<line x1="428.4" y1="382.22" x2="431" y2="382.22" stroke="#999" stroke-width="0.8" />
<line x1="428.4" y1="371.28" x2="431" y2="371.28" stroke="#999" stroke-width="0.8" />
<line x1="428.4" y1="360.34" x2="431" y2="360.34" stroke="#999" stroke-width="0.8" />
<line x1="428.4" y1="349.4" x2="431" y2="349.4" stroke="#999" stroke-width="0.8" />
<line x1="428.4" y1="420.51" x2="430.2" y2="420.51" stroke="#999" stroke-width="0.8" />
<line x1="428.4" y1="409.57" x2="430.2" y2="409.57" stroke="#999" stroke-width="0.8" />
<line x1="428.4" y1="398.63" x2="430.2" y2="398.63" stroke="#999" stroke-width="0.8" />
<line x1="428.4" y1="387.69" x2="430.2" y2="387.69" stroke="#999" stroke-width="0.8" />
<line x1="428.4" y1="376.75" x2="430.2" y2="376.75" stroke="#999" stroke-width="0.8" />
<line x1="428.4" y1="365.81" x2="430.2" y2="365.81" stroke="#999" stroke-width="0.8" />
<line x1="428.4" y1="354.87" x2="430.2" y2="354.87" stroke="#999" stroke-width="0.8" />
<text transform="translate(34.4,496.8) scale(0.87,1)" font-size="8.6" text-anchor="middle" fill="#2a2a2a" stroke="#2a2a2a" stroke-width="0.13" >0</text>
<text transform="translate(132.01,496.8) scale(0.87,1)" font-size="8.6" text-anchor="middle" fill="#2a2a2a" stroke="#2a2a2a" stroke-width="0.13" >5000</text>
<text transform="translate(229.62,496.8) scale(0.87,1)" font-size="8.6" text-anchor="middle" fill="#2a2a2a" stroke="#2a2a2a" stroke-width="0.13" >10000</text>
<text transform="translate(327.23,496.8) scale(0.87,1)" font-size="8.6" text-anchor="middle" fill="#2a2a2a" stroke="#2a2a2a" stroke-width="0.13" >15000</text>
<text transform="translate(424.84,496.8) scale(0.87,1)" font-size="8.6" text-anchor="middle" fill="#2a2a2a" stroke="#2a2a2a" stroke-width="0.13" >20000</text>
<text transform="translate(27,489.3) scale(0.87,1)" font-size="8.6" text-anchor="end" fill="#2a2a2a" stroke="#2a2a2a" stroke-width="0.13" >0</text>
<text transform="translate(27,474.1) scale(0.87,1)" font-size="8.6" text-anchor="end" fill="#2a2a2a" stroke="#2a2a2a" stroke-width="0.13" >20</text>
<text transform="translate(27,458.9) scale(0.87,1)" font-size="8.6" text-anchor="end" fill="#2a2a2a" stroke="#2a2a2a" stroke-width="0.13" >40</text>
<text transform="translate(27,443.7) scale(0.87,1)" font-size="8.6" text-anchor="end" fill="#2a2a2a" stroke="#2a2a2a" stroke-width="0.13" >60</text>
<text transform="translate(27,428.5) scale(0.87,1)" font-size="8.6" text-anchor="end" fill="#2a2a2a" stroke="#2a2a2a" stroke-width="0.13" >80</text>
<text transform="translate(27,413.3) scale(0.87,1)" font-size="8.6" text-anchor="end" fill="#2a2a2a" stroke="#2a2a2a" stroke-width="0.13" >100</text>
<text transform="translate(27,398.1) scale(0.87,1)" font-size="8.6" text-anchor="end" fill="#2a2a2a" stroke="#2a2a2a" stroke-width="0.13" >120</text>
<text transform="translate(27,382.9) scale(0.87,1)" font-size="8.6" text-anchor="end" fill="#2a2a2a" stroke="#2a2a2a" stroke-width="0.13" >140</text>
<text transform="translate(27,367.7) scale(0.87,1)" font-size="8.6" text-anchor="end" fill="#2a2a2a" stroke="#2a2a2a" stroke-width="0.13" >160</text>
<text transform="translate(27,352.5) scale(0.87,1)" font-size="8.6" text-anchor="end" fill="#2a2a2a" stroke="#2a2a2a" stroke-width="0.13" >180</text>
<text transform="translate(433,429.58) scale(0.87,1)" font-size="8.8" text-anchor="start" fill="#999" stroke="#999" stroke-width="0.13" >70</text>
<text transform="translate(433,418.64) scale(0.87,1)" font-size="8.8" text-anchor="start" fill="#999" stroke="#999" stroke-width="0.13" >75</text>
<text transform="translate(433,407.7) scale(0.87,1)" font-size="8.8" text-anchor="start" fill="#999" stroke="#999" stroke-width="0.13" >80</text>
<text transform="translate(433,396.76) scale(0.87,1)" font-size="8.8" text-anchor="start" fill="#999" stroke="#999" stroke-width="0.13" >85</text>
<text transform="translate(433,385.82) scale(0.87,1)" font-size="8.8" text-anchor="start" fill="#999" stroke="#999" stroke-width="0.13" >90</text>
<text transform="translate(433,374.88) scale(0.87,1)" font-size="8.8" text-anchor="start" fill="#999" stroke="#999" stroke-width="0.13" >95</text>
<text transform="translate(433,363.94) scale(0.87,1)" font-size="8.8" text-anchor="start" fill="#999" stroke="#999" stroke-width="0.13" >100</text>
<text transform="translate(433,353) scale(0.87,1)" font-size="8.8" text-anchor="start" fill="#999" stroke="#999" stroke-width="0.13" >105</text>
<text transform="translate(229.3,505) scale(0.88,1)" font-size="8.9" text-anchor="middle" fill="#2a2a2a" stroke="#2a2a2a" stroke-width="0.13" >Cycle number</text>
<text transform="translate(11.6,414.5) rotate(-90)" font-size="8.1" text-anchor="middle" fill="#2a2a2a" stroke="#2a2a2a" stroke-width="0.13" >Specific capacity (mAh g<tspan dy="-3.08" font-size="5.02">-1</tspan><tspan dy="3.08">)</tspan></text>
<text transform="translate(453.2,390) rotate(-90)" font-size="8.0" text-anchor="middle" fill="#999" stroke="#999" stroke-width="0.13" >Coulombic efficiency (%)</text>
<text x="0.4" y="355.4" font-size="16.8" text-anchor="start" fill="#000" stroke="#000" stroke-width="0.13" >f</text>
<path d="M498.2,418.8 C506.83,418.67 536.15,418.42 550,418 C563.85,417.58 570.47,416.62 581.3,416.3 C592.13,415.98 604.67,416.1 615,416.1 C625.33,416.1 640.8,415.73 643.3,416.3 C645.8,416.87 634.72,419 630,419.5 C625.28,420 623.12,419.4 615,419.3 C606.88,419.2 592.13,418.92 581.3,418.9 C570.47,418.88 563.85,419.22 550,419.2 C536.15,419.18 506.83,418.87 498.2,418.8" stroke="#f5b8bc" stroke-width="0.9" fill="none" stroke-linejoin="round" stroke-linecap="round" />
<path d="M498.2,418.8 C505.17,418.72 527.62,419.08 540,418.3 C552.38,417.52 564.17,415.17 572.5,414.1 C580.83,413.03 585.42,412.65 590,411.9 C594.58,411.15 597.08,410.18 600,409.6 C602.92,409.02 605,408.45 607.5,408.4 C610,408.35 612.05,408.8 615,409.3 C617.95,409.8 620.48,410.75 625.2,411.4 C629.92,412.05 641.53,411.28 643.3,413.2 C645.07,415.12 640.52,421.22 635.8,422.9 C631.08,424.58 621.17,423.02 615,423.3 C608.83,423.58 602.67,424.17 598.8,424.6 C594.93,425.03 594,425.97 591.8,425.9 C589.6,425.83 588.82,424.93 585.6,424.2 C582.38,423.47 580.1,422.27 572.5,421.5 C564.9,420.73 552.38,420.05 540,419.6 C527.62,419.15 505.17,418.93 498.2,418.8" stroke="#ee6a72" stroke-width="0.95" fill="none" stroke-linejoin="round" stroke-linecap="round" />
<path d="M498.2,418.8 C503.5,418.77 520.53,418.95 530,418.6 C539.47,418.25 547.92,417.82 555,416.7 C562.08,415.58 566.67,413.35 572.5,411.9 C578.33,410.45 584.88,409.47 590,408 C595.12,406.53 599.83,404.2 603.2,403.1 C606.57,402 607.88,401.38 610.2,401.4 C612.52,401.42 614.6,402.42 617.1,403.2 C619.6,403.98 621.78,405.02 625.2,406.1 C628.62,407.18 634.58,408.95 637.6,409.7 C640.62,410.45 643.3,408.55 643.3,410.6 C643.3,412.65 639.43,419.22 637.6,422 C635.77,424.78 635.83,426.27 632.3,427.3 C628.77,428.33 621.98,427.47 616.4,428.2 C610.82,428.93 603.2,430.82 598.8,431.7 C594.4,432.58 592.32,433.47 590,433.5 C587.68,433.53 587.08,433.02 584.9,431.9 C582.72,430.78 579.7,428.23 576.9,426.8 C574.1,425.37 571.75,424.27 568.1,423.3 C564.45,422.33 561.35,421.62 555,421 C548.65,420.38 539.47,419.97 530,419.6 C520.53,419.23 503.5,418.93 498.2,418.8" stroke="#f07078" stroke-width="1.15" fill="none" stroke-linejoin="round" stroke-linecap="round" />
<path d="M498.2,418.8 C505.7,418.72 532.5,419.05 543.2,418.3 C553.9,417.55 557.58,415.77 562.4,414.3 C567.22,412.83 568.62,411.12 572.1,409.5 C575.58,407.88 580.32,406.1 583.3,404.6 C586.28,403.1 587.05,402.1 590,400.5 C592.95,398.9 598.17,396.67 601,395 C603.83,393.33 605.17,391.65 607,390.5 C608.83,389.35 610.05,388.02 612,388.1 C613.95,388.18 616.52,389.72 618.7,391 C620.88,392.28 622.88,394.53 625.1,395.8 C627.32,397.07 629.63,397.75 632,398.6 C634.37,399.45 637.42,400.3 639.3,400.9 C641.18,401.5 643,401.03 643.3,402.2 C643.6,403.37 641.9,404.9 641.1,407.9 C640.3,410.9 639.68,416.08 638.5,420.2 C637.32,424.32 635.77,429.95 634,432.6 C632.23,435.25 630.83,435.45 627.9,436.1 C624.97,436.75 619.78,436.28 616.4,436.5 C613.02,436.72 610.53,436.88 607.6,437.4 C604.67,437.92 600.97,438.63 598.8,439.6 C596.63,440.57 596.38,442.07 594.6,443.2 C592.82,444.33 590.52,447.2 588.1,446.4 C585.68,445.6 582.77,440.82 580.1,438.4 C577.43,435.98 575.58,433.78 572.1,431.9 C568.62,430.02 564.02,428.97 559.2,427.1 C554.38,425.23 549.73,422.02 543.2,420.7 C536.67,419.38 527.5,419.52 520,419.2 C512.5,418.88 501.83,418.87 498.2,418.8" stroke="#d81e22" stroke-width="1.1" fill="none" stroke-linejoin="round" stroke-linecap="round" />
<path d="M498.2,418.8 C503.02,418.72 519.6,418.52 527.1,418.3 C534.6,418.08 538.38,418.17 543.2,417.5 C548.02,416.83 551.98,415.77 556,414.3 C560.02,412.83 563.82,410.85 567.3,408.7 C570.78,406.55 574.37,403.68 576.9,401.4 C579.43,399.12 580.62,397.28 582.5,395 C584.38,392.72 585.38,390.65 588.2,387.7 C591.02,384.75 596.2,380.9 599.4,377.3 C602.6,373.7 604.72,369.72 607.4,366.1 C610.08,362.48 613.35,356.95 615.5,355.6 C617.65,354.25 618.7,356.25 620.3,358 C621.9,359.75 622.97,363.68 625.1,366.1 C627.23,368.52 630.02,370.37 633.1,372.5 C636.18,374.63 642.05,375.65 643.6,378.9 C645.15,382.15 642.8,387.18 642.4,392 C642,396.82 641.83,401.8 641.2,407.8 C640.57,413.8 639.55,422.72 638.6,428 C637.65,433.28 636.77,436.25 635.5,439.5 C634.23,442.75 632.67,445.28 631,447.5 C629.33,449.72 627.67,451.33 625.5,452.8 C623.33,454.27 621.25,455.27 618,456.3 C614.75,457.33 609.37,457.7 606,459 C602.63,460.3 599.97,461.92 597.8,464.1 C595.63,466.28 594.75,469.83 593,472.1 C591.25,474.37 588.92,477.17 587.3,477.7 C585.68,478.23 584.77,477.57 583.3,475.3 C581.83,473.03 580.1,467.85 578.5,464.1 C576.9,460.35 575.3,455.75 573.7,452.8 C572.1,449.85 571.32,448.8 568.9,446.4 C566.48,444 562.68,441.35 559.2,438.4 C555.72,435.45 551.47,431.38 548,428.7 C544.53,426.02 541.88,423.9 538.4,422.3 C534.92,420.7 533.8,419.68 527.1,419.1 C520.4,418.52 503.02,418.85 498.2,418.8" stroke="#8a1e22" stroke-width="1.2" fill="none" stroke-linejoin="round" stroke-linecap="round" />
<line x1="486" y1="349.6" x2="655.6" y2="349.6" stroke="#9a9a9a" stroke-width="0.9" />
<line x1="655.6" y1="349.6" x2="655.6" y2="486.2" stroke="#6e6e6e" stroke-width="0.9" />
<line x1="486" y1="486.2" x2="655.6" y2="486.2" stroke="#333" stroke-width="0.9" />
<line x1="486" y1="349.6" x2="486" y2="486.2" stroke="#333" stroke-width="0.9" />
<line x1="498.4" y1="486.2" x2="498.4" y2="489.2" stroke="#333" stroke-width="0.8" />
<line x1="522.6" y1="486.2" x2="522.6" y2="489.2" stroke="#333" stroke-width="0.8" />
<line x1="546.8" y1="486.2" x2="546.8" y2="489.2" stroke="#333" stroke-width="0.8" />
<line x1="571" y1="486.2" x2="571" y2="489.2" stroke="#333" stroke-width="0.8" />
<line x1="595.2" y1="486.2" x2="595.2" y2="489.2" stroke="#333" stroke-width="0.8" />
<line x1="619.4" y1="486.2" x2="619.4" y2="489.2" stroke="#333" stroke-width="0.8" />
<line x1="643.6" y1="486.2" x2="643.6" y2="489.2" stroke="#333" stroke-width="0.8" />
<line x1="486.3" y1="486.2" x2="486.3" y2="488.2" stroke="#333" stroke-width="0.8" />
<line x1="510.5" y1="486.2" x2="510.5" y2="488.2" stroke="#333" stroke-width="0.8" />
<line x1="534.7" y1="486.2" x2="534.7" y2="488.2" stroke="#333" stroke-width="0.8" />
<line x1="558.9" y1="486.2" x2="558.9" y2="488.2" stroke="#333" stroke-width="0.8" />
<line x1="583.1" y1="486.2" x2="583.1" y2="488.2" stroke="#333" stroke-width="0.8" />
<line x1="607.3" y1="486.2" x2="607.3" y2="488.2" stroke="#333" stroke-width="0.8" />
<line x1="631.5" y1="486.2" x2="631.5" y2="488.2" stroke="#333" stroke-width="0.8" />
<line x1="486" y1="472.6" x2="483" y2="472.6" stroke="#333" stroke-width="0.8" />
<line x1="486" y1="445.3" x2="483" y2="445.3" stroke="#333" stroke-width="0.8" />
<line x1="486" y1="418" x2="483" y2="418" stroke="#333" stroke-width="0.8" />
<line x1="486" y1="390.7" x2="483" y2="390.7" stroke="#333" stroke-width="0.8" />
<line x1="486" y1="363.4" x2="483" y2="363.4" stroke="#333" stroke-width="0.8" />
<line x1="486" y1="458.95" x2="484" y2="458.95" stroke="#333" stroke-width="0.8" />
<line x1="486" y1="431.65" x2="484" y2="431.65" stroke="#333" stroke-width="0.8" />
<line x1="486" y1="404.35" x2="484" y2="404.35" stroke="#333" stroke-width="0.8" />
<line x1="486" y1="377.05" x2="484" y2="377.05" stroke="#333" stroke-width="0.8" />
<text transform="translate(498.4,498) scale(0.9,1)" font-size="9.3" text-anchor="middle" fill="#2a2a2a" stroke="#2a2a2a" stroke-width="0.13" >0.0</text>
<text transform="translate(522.6,498) scale(0.9,1)" font-size="9.3" text-anchor="middle" fill="#2a2a2a" stroke="#2a2a2a" stroke-width="0.13" >0.5</text>
<text transform="translate(546.8,498) scale(0.9,1)" font-size="9.3" text-anchor="middle" fill="#2a2a2a" stroke="#2a2a2a" stroke-width="0.13" >1.0</text>
<text transform="translate(571,498) scale(0.9,1)" font-size="9.3" text-anchor="middle" fill="#2a2a2a" stroke="#2a2a2a" stroke-width="0.13" >1.5</text>
<text transform="translate(595.2,498) scale(0.9,1)" font-size="9.3" text-anchor="middle" fill="#2a2a2a" stroke="#2a2a2a" stroke-width="0.13" >2.0</text>
<text transform="translate(619.4,498) scale(0.9,1)" font-size="9.3" text-anchor="middle" fill="#2a2a2a" stroke="#2a2a2a" stroke-width="0.13" >2.5</text>
<text transform="translate(643.6,498) scale(0.9,1)" font-size="9.3" text-anchor="middle" fill="#2a2a2a" stroke="#2a2a2a" stroke-width="0.13" >3.0</text>
<text transform="translate(482,475.3) scale(0.9,1)" font-size="9.3" text-anchor="end" fill="#2a2a2a" stroke="#2a2a2a" stroke-width="0.13" >-4</text>
<text transform="translate(482,448) scale(0.9,1)" font-size="9.3" text-anchor="end" fill="#2a2a2a" stroke="#2a2a2a" stroke-width="0.13" >-2</text>
<text transform="translate(482,420.7) scale(0.9,1)" font-size="9.3" text-anchor="end" fill="#2a2a2a" stroke="#2a2a2a" stroke-width="0.13" >0</text>
<text transform="translate(482,393.4) scale(0.9,1)" font-size="9.3" text-anchor="end" fill="#2a2a2a" stroke="#2a2a2a" stroke-width="0.13" >2</text>
<text transform="translate(482,366.1) scale(0.9,1)" font-size="9.3" text-anchor="end" fill="#2a2a2a" stroke="#2a2a2a" stroke-width="0.13" >4</text>
<text x="571.5" y="507.8" font-size="9.0" text-anchor="middle" fill="#2a2a2a" stroke="#2a2a2a" stroke-width="0.13" >Voltage (V)</text>
<text transform="translate(468.8,418) rotate(-90)" font-size="9.1" text-anchor="middle" fill="#2a2a2a" stroke="#2a2a2a" stroke-width="0.13" >Specific current (A g<tspan dy="-3.46" font-size="5.64">-1</tspan><tspan dy="3.46">)</tspan></text>
<line x1="490.1" y1="357.6" x2="508" y2="357.6" stroke="#f5c0c4" stroke-width="1.0" />
<text x="510.6" y="360.4" font-size="7.7" text-anchor="start" fill="#2a2a2a" stroke="#2a2a2a" stroke-width="0.13" >1 mV s<tspan dy="-2.93" font-size="4.77">-1</tspan><tspan dy="2.93"></tspan></text>
<line x1="490.1" y1="368.4" x2="508" y2="368.4" stroke="#f06a74" stroke-width="0.8" />
<text x="510.6" y="371.2" font-size="7.7" text-anchor="start" fill="#2a2a2a" stroke="#2a2a2a" stroke-width="0.13" >5 mV s<tspan dy="-2.93" font-size="4.77">-1</tspan><tspan dy="2.93"></tspan></text>
<line x1="490.1" y1="378.7" x2="508" y2="378.7" stroke="#f08a92" stroke-width="1.3" />
<text x="510.6" y="381.5" font-size="7.7" text-anchor="start" fill="#2a2a2a" stroke="#2a2a2a" stroke-width="0.13" >10 mV s<tspan dy="-2.93" font-size="4.77">-1</tspan><tspan dy="2.93"></tspan></text>
<line x1="490.1" y1="389.4" x2="508" y2="389.4" stroke="#d81e22" stroke-width="0.9" />
<text x="510.6" y="392.2" font-size="7.7" text-anchor="start" fill="#2a2a2a" stroke="#2a2a2a" stroke-width="0.13" >20 mV s<tspan dy="-2.93" font-size="4.77">-1</tspan><tspan dy="2.93"></tspan></text>
<line x1="490.1" y1="400" x2="508" y2="400" stroke="#a04850" stroke-width="1.4" />
<text x="510.6" y="402.8" font-size="7.7" text-anchor="start" fill="#2a2a2a" stroke="#2a2a2a" stroke-width="0.13" >50 mV s<tspan dy="-2.93" font-size="4.77">-1</tspan><tspan dy="2.93"></tspan></text>
<text x="459.6" y="356.6" font-size="16.8" text-anchor="start" fill="#000" stroke="#000" stroke-width="0.13" >g</text>
<path d="M30.6,608 C31,605.33 31.93,596.5 33,592 C34.07,587.5 34.83,584.5 37,581 C39.17,577.5 41.83,574.17 46,571 C50.17,567.83 56,564.75 62,562 C68,559.25 75.67,556.67 82,554.5 C88.33,552.33 93.67,550.75 100,549 C106.33,547.25 113.83,545.5 120,544 C126.17,542.5 130.33,541.5 137,540 C143.67,538.5 152.5,536.58 160,535 C167.5,533.42 176.6,531.33 182,530.5 C187.4,529.67 190.67,530.08 192.4,530" stroke="#f5b4b4" stroke-width="0.8" fill="none" stroke-linejoin="round" stroke-linecap="round" />
<path d="M30.6,531.9 C34.67,533.25 46.77,537.32 55,540 C63.23,542.68 72.5,545.5 80,548 C87.5,550.5 93.67,552.17 100,555 C106.33,557.83 111.33,562.17 118,565 C124.67,567.83 133.83,569.5 140,572 C146.17,574.5 151.17,577 155,580 C158.83,583 160.83,586.33 163,590 C165.17,593.67 166.83,597 168,602 C169.17,607 169.6,613.67 170,620 C170.4,626.33 170.33,634.17 170.4,640 C170.47,645.83 170.4,652.5 170.4,655" stroke="#f5b4b4" stroke-width="0.8" fill="none" stroke-linejoin="round" stroke-linecap="round" />
<path d="M30.6,597 C30.97,594.92 31.82,588.08 32.8,584.5 C33.78,580.92 34.47,578.58 36.5,575.5 C38.53,572.42 40.75,569.08 45,566 C49.25,562.92 55.83,559.92 62,557 C68.17,554.08 75.33,551.25 82,548.5 C88.67,545.75 95,543 102,540.5 C109,538 116.93,535.25 124,533.5 C131.07,531.75 141,530.58 144.4,530" stroke="#ee5a5a" stroke-width="1.0" fill="none" stroke-linejoin="round" stroke-linecap="round" />
<path d="M30.6,532.4 C33.83,534 42.6,538.73 50,542 C57.4,545.27 66.67,548.92 75,552 C83.33,555.08 92.83,557.02 100,560.5 C107.17,563.98 113,568.82 118,572.9 C123,576.98 126.67,580.48 130,585 C133.33,589.52 136.03,594.67 138,600 C139.97,605.33 140.98,611.17 141.8,617 C142.62,622.83 142.7,628.67 142.9,635 C143.1,641.33 142.98,651.67 143,655" stroke="#ee5a5a" stroke-width="1.0" fill="none" stroke-linejoin="round" stroke-linecap="round" />
<path d="M30.6,602 C30.97,599.67 31.82,591.92 32.8,588 C33.78,584.08 34.47,581.75 36.5,578.5 C38.53,575.25 40.75,571.75 45,568.5 C49.25,565.25 55.83,562.08 62,559 C68.17,555.92 75.33,552.92 82,550 C88.67,547.08 95.67,544.08 102,541.5 C108.33,538.92 114.5,536.42 120,534.5 C125.5,532.58 132.5,530.75 135,530" stroke="#f08088" stroke-width="0.8" fill="none" stroke-linejoin="round" stroke-linecap="round" />
<path d="M30.6,532.8 C33.83,534.58 43.43,540.13 50,543.5 C56.57,546.87 62.65,549.53 70,553 C77.35,556.47 87.88,561.32 94.1,564.3 C100.32,567.28 103.32,567.82 107.3,570.9 C111.28,573.98 114.88,578.28 118,582.8 C121.12,587.32 123.92,592.63 126,598 C128.08,603.37 129.47,608.83 130.5,615 C131.53,621.17 131.88,628.33 132.2,635 C132.52,641.67 132.37,651.67 132.4,655" stroke="#f08088" stroke-width="0.8" fill="none" stroke-linejoin="round" stroke-linecap="round" />
<path d="M30.6,592 C30.93,590.25 31.72,584.35 32.6,581.5 C33.48,578.65 34.02,577.55 35.9,574.9 C37.78,572.25 39.72,568.68 43.9,565.6 C48.08,562.52 54.83,559.48 61,556.4 C67.17,553.32 74.28,550.3 80.9,547.1 C87.52,543.9 94.52,540.07 100.7,537.2 C106.88,534.33 115.12,531.12 118,529.9" stroke="#cc3636" stroke-width="1.2" fill="none" stroke-linejoin="round" stroke-linecap="round" />
<path d="M30.6,533.9 C33.47,536.1 41.63,542.92 47.8,547.1 C53.97,551.28 60.98,555.7 67.6,559 C74.22,562.3 82.65,564.92 87.5,566.9 C92.35,568.88 93.85,569.13 96.7,570.9 C99.55,572.67 102.17,574.2 104.6,577.5 C107.03,580.8 109.53,584.95 111.3,590.7 C113.07,596.45 114.22,604.62 115.2,612 C116.18,619.38 116.82,627.83 117.2,635 C117.58,642.17 117.45,651.67 117.5,655" stroke="#cc3636" stroke-width="1.2" fill="none" stroke-linejoin="round" stroke-linecap="round" />
<path d="M30.6,582.8 C30.87,581.58 31.53,577.48 32.2,575.5 C32.87,573.52 33.1,572.77 34.6,570.9 C36.1,569.03 37.9,566.72 41.2,564.3 C44.5,561.88 50,558.82 54.4,556.4 C58.8,553.98 63.18,552.02 67.6,549.8 C72.02,547.58 76.48,545.53 80.9,543.1 C85.32,540.67 89.58,537.43 94.1,535.2 C98.62,532.97 105.68,530.62 108,529.7" stroke="#8c1c1c" stroke-width="1.0" fill="none" stroke-linejoin="round" stroke-linecap="round" />
<path d="M30.6,535.2 C32.37,536.75 37.23,541.42 41.2,544.5 C45.17,547.58 50,550.62 54.4,553.7 C58.8,556.78 63.18,560.35 67.6,563 C72.02,565.65 77.58,567.95 80.9,569.6 C84.22,571.25 85.3,571.15 87.5,572.9 C89.7,574.65 91.9,576.68 94.1,580.1 C96.3,583.52 98.95,588.08 100.7,593.4 C102.45,598.72 103.82,605.07 104.6,612 C105.38,618.93 105.25,627.83 105.4,635 C105.55,642.17 105.48,651.67 105.5,655" stroke="#8c1c1c" stroke-width="1.0" fill="none" stroke-linejoin="round" stroke-linecap="round" />
<line x1="30.4" y1="519.4" x2="198.6" y2="519.4" stroke="#444" stroke-width="0.9" />
<line x1="198.6" y1="519.4" x2="198.6" y2="655" stroke="#6e6e6e" stroke-width="0.9" />
<line x1="30.4" y1="655" x2="198.6" y2="655" stroke="#333" stroke-width="0.9" />
<line x1="30.4" y1="519.4" x2="30.4" y2="655" stroke="#333" stroke-width="0.9" />
<line x1="30.4" y1="655" x2="30.4" y2="658" stroke="#333" stroke-width="0.8" />
<line x1="58.4" y1="655" x2="58.4" y2="658" stroke="#333" stroke-width="0.8" />
<line x1="86.4" y1="655" x2="86.4" y2="658" stroke="#333" stroke-width="0.8" />
<line x1="114.4" y1="655" x2="114.4" y2="658" stroke="#333" stroke-width="0.8" />
<line x1="142.4" y1="655" x2="142.4" y2="658" stroke="#333" stroke-width="0.8" />
<line x1="170.4" y1="655" x2="170.4" y2="658" stroke="#333" stroke-width="0.8" />
<line x1="198.4" y1="655" x2="198.4" y2="658" stroke="#333" stroke-width="0.8" />
<line x1="44.4" y1="655" x2="44.4" y2="657" stroke="#333" stroke-width="0.8" />
<line x1="72.4" y1="655" x2="72.4" y2="657" stroke="#333" stroke-width="0.8" />
<line x1="100.4" y1="655" x2="100.4" y2="657" stroke="#333" stroke-width="0.8" />
<line x1="128.4" y1="655" x2="128.4" y2="657" stroke="#333" stroke-width="0.8" />
<line x1="156.4" y1="655" x2="156.4" y2="657" stroke="#333" stroke-width="0.8" />
<line x1="184.4" y1="655" x2="184.4" y2="657" stroke="#333" stroke-width="0.8" />
<line x1="30.4" y1="655.2" x2="27.4" y2="655.2" stroke="#333" stroke-width="0.8" />
<line x1="30.4" y1="634.3" x2="27.4" y2="634.3" stroke="#333" stroke-width="0.8" />
<line x1="30.4" y1="613.4" x2="27.4" y2="613.4" stroke="#333" stroke-width="0.8" />
<line x1="30.4" y1="592.5" x2="27.4" y2="592.5" stroke="#333" stroke-width="0.8" />
<line x1="30.4" y1="571.6" x2="27.4" y2="571.6" stroke="#333" stroke-width="0.8" />
<line x1="30.4" y1="550.7" x2="27.4" y2="550.7" stroke="#333" stroke-width="0.8" />
<line x1="30.4" y1="529.8" x2="27.4" y2="529.8" stroke="#333" stroke-width="0.8" />
<line x1="30.4" y1="644.75" x2="28.4" y2="644.75" stroke="#333" stroke-width="0.8" />
<line x1="30.4" y1="623.85" x2="28.4" y2="623.85" stroke="#333" stroke-width="0.8" />
<line x1="30.4" y1="602.95" x2="28.4" y2="602.95" stroke="#333" stroke-width="0.8" />
<line x1="30.4" y1="582.05" x2="28.4" y2="582.05" stroke="#333" stroke-width="0.8" />
<line x1="30.4" y1="561.15" x2="28.4" y2="561.15" stroke="#333" stroke-width="0.8" />
<line x1="30.4" y1="540.25" x2="28.4" y2="540.25" stroke="#333" stroke-width="0.8" />
<text transform="translate(30.4,667.2) scale(0.9,1)" font-size="9.3" text-anchor="middle" fill="#2a2a2a" stroke="#2a2a2a" stroke-width="0.13" >0</text>
<text transform="translate(58.4,667.2) scale(0.9,1)" font-size="9.3" text-anchor="middle" fill="#2a2a2a" stroke="#2a2a2a" stroke-width="0.13" >10</text>
<text transform="translate(86.4,667.2) scale(0.9,1)" font-size="9.3" text-anchor="middle" fill="#2a2a2a" stroke="#2a2a2a" stroke-width="0.13" >20</text>
<text transform="translate(114.4,667.2) scale(0.9,1)" font-size="9.3" text-anchor="middle" fill="#2a2a2a" stroke="#2a2a2a" stroke-width="0.13" >30</text>
<text transform="translate(142.4,667.2) scale(0.9,1)" font-size="9.3" text-anchor="middle" fill="#2a2a2a" stroke="#2a2a2a" stroke-width="0.13" >40</text>
<text transform="translate(170.4,667.2) scale(0.9,1)" font-size="9.3" text-anchor="middle" fill="#2a2a2a" stroke="#2a2a2a" stroke-width="0.13" >50</text>
<text transform="translate(198.4,667.2) scale(0.9,1)" font-size="9.3" text-anchor="middle" fill="#2a2a2a" stroke="#2a2a2a" stroke-width="0.13" >60</text>
<text transform="translate(25.3,657.9) scale(0.9,1)" font-size="9.3" text-anchor="end" fill="#2a2a2a" stroke="#2a2a2a" stroke-width="0.13" >0.0</text>
<text transform="translate(25.3,637) scale(0.9,1)" font-size="9.3" text-anchor="end" fill="#2a2a2a" stroke="#2a2a2a" stroke-width="0.13" >0.5</text>
<text transform="translate(25.3,616.1) scale(0.9,1)" font-size="9.3" text-anchor="end" fill="#2a2a2a" stroke="#2a2a2a" stroke-width="0.13" >1.0</text>
<text transform="translate(25.3,595.2) scale(0.9,1)" font-size="9.3" text-anchor="end" fill="#2a2a2a" stroke="#2a2a2a" stroke-width="0.13" >1.5</text>
<text transform="translate(25.3,574.3) scale(0.9,1)" font-size="9.3" text-anchor="end" fill="#2a2a2a" stroke="#2a2a2a" stroke-width="0.13" >2.0</text>
<text transform="translate(25.3,553.4) scale(0.9,1)" font-size="9.3" text-anchor="end" fill="#2a2a2a" stroke="#2a2a2a" stroke-width="0.13" >2.5</text>
<text transform="translate(25.3,532.5) scale(0.9,1)" font-size="9.3" text-anchor="end" fill="#2a2a2a" stroke="#2a2a2a" stroke-width="0.13" >3.0</text>
<text x="115" y="676.4" font-size="8.95" text-anchor="middle" fill="#2a2a2a" stroke="#2a2a2a" stroke-width="0.13" >Specific capacity (mAh g<tspan dy="-3.40" font-size="5.55">-1</tspan><tspan dy="3.40">)</tspan></text>
<text transform="translate(10.1,588.5) rotate(-90)" font-size="9.2" text-anchor="middle" fill="#2a2a2a" stroke="#2a2a2a" stroke-width="0.13" >Voltage (V)</text>
<line x1="37.9" y1="599.6" x2="55.7" y2="599.6" stroke="#f5b4b4" stroke-width="1.1" />
<text x="57.6" y="602.5" font-size="8.1" text-anchor="start" fill="#2a2a2a" stroke="#2a2a2a" stroke-width="0.13" >0.2 A g<tspan dy="-3.08" font-size="5.02">-1</tspan><tspan dy="3.08"></tspan></text>
<line x1="37.9" y1="610.2" x2="55.7" y2="610.2" stroke="#ee5a5a" stroke-width="1.3" />
<text x="57.6" y="613.1" font-size="8.1" text-anchor="start" fill="#2a2a2a" stroke="#2a2a2a" stroke-width="0.13" >1 A g<tspan dy="-3.08" font-size="5.02">-1</tspan><tspan dy="3.08"></tspan></text>
<line x1="37.9" y1="620.6" x2="55.7" y2="620.6" stroke="#f08088" stroke-width="1.1" />
<text x="57.6" y="623.5" font-size="8.1" text-anchor="start" fill="#2a2a2a" stroke="#2a2a2a" stroke-width="0.13" >2 A g<tspan dy="-3.08" font-size="5.02">-1</tspan><tspan dy="3.08"></tspan></text>
<line x1="37.9" y1="631.2" x2="55.7" y2="631.2" stroke="#cc3636" stroke-width="1.5" />
<text x="57.6" y="634.1" font-size="8.1" text-anchor="start" fill="#2a2a2a" stroke="#2a2a2a" stroke-width="0.13" >5 A g<tspan dy="-3.08" font-size="5.02">-1</tspan><tspan dy="3.08"></tspan></text>
<line x1="37.9" y1="641.5" x2="55.7" y2="641.5" stroke="#8c1c1c" stroke-width="1.3" />
<text x="57.6" y="644.4" font-size="8.1" text-anchor="start" fill="#2a2a2a" stroke="#2a2a2a" stroke-width="0.13" >10 A g<tspan dy="-3.08" font-size="5.02">-1</tspan><tspan dy="3.08"></tspan></text>
<text x="0.8" y="524.6" font-size="16.8" text-anchor="start" fill="#000" stroke="#000" stroke-width="0.13" >h</text>
<path d="M256.5,537.32 L258.57,537.07 L260.64,537.14 L262.71,537.46 L264.79,537.14 L266.86,537.51 L268.93,537.32 L271,537.62 L273.07,537.53 L275.14,537.43 L277.21,537.17 L279.29,536.92 L281.36,537.27 L283.43,537.39 L285.5,537.49 L287.57,536.98 L289.64,536.93 L291.71,537.49 L293.79,537.31 L295.86,537.12 L297.93,537.28 L300,536.85 L302,537.11 L304,537.19 L306,537.12 L308,536.8 L310,536.77 L312,537.09 L314,537.26 L316,536.72 L318,536.61 L320,536.65 L322,537.12 L324,536.83 L326,536.86 L328,537.22 L330,536.94 L332,536.68 L334,536.97 L336,536.46 L338,536.64 L340,536.92 L342,536.53 L344,536.42 L346,536.74 L348,536.6 L350,537.03 L352,536.41 L354,536.88 L356,536.58 L358,536.86 L360,536.59 L362,536.74 L364,536.49 L366,536.4 L368,536.55 L370,536.78 L372,536.45 L374,536.35 L376,536.47 L378,536.23 L380,536.37 L382,536.54 L384,536.51 L386,536.53 L388,536.3 L390,536.1 L392,536.09 L394,536.29 L396,536.18 L398,536.43 L400,536.2 L402,536.54 L404,536.41 L406,536.44 L408,536.48 L410,536.32 L412,536.24 L414,536.14 L416,535.95 L418,536.45 L420,536.23 L422,535.94 L424,536.51 L426,536.25 L428,536.27 L430,536.12 L432,535.89 L434,536.49 L436,535.89 L438,536.02 L440,536.45 L442,535.81 L444,536.05 L446,536.02 L448,535.83 L450,536.28 L452,535.9 L454,535.59 L456,535.89 L458,535.54 L460,536.01 L462,536.1 L464,536.1 L466,535.48 L468,535.9 L470,535.61 L472,535.71 L474,535.56 L476,535.54 L478,535.4 L480,535.72 L482,535.32 L484,535.91 L486,535.24 L488,535.86 L490,535.3 L492,535.2 L494,535.64 L496,535.47 L498,535.61 L500,535.41 L502,535.46 L504,535.05 L506,535.44 L508,535.3 L510,535.59 L512,534.89 L514,534.91 L516,535.31 L518,535.46 L520,535.08 L522,535.25 L524,535.12 L526,534.98 L528,535 L530,535.07 L532,534.64 L534,534.81 L536,535.09 L538,534.72 L540,534.85 L542,534.67 L544,534.71 L546,534.89 L548,534.93 L550,535.05 L552,534.69 L554,534.47 L556,534.54 L558,534.32 L560,534.42 L562,534.67 L564,534.7 L566,534.45 L568,534.42 L570,534.37 L572,534.44 L574,534.67 L576,534.51 L578,534.96 L580,534.75 L582,534.6 L584,534.67 L586,534.41 L588,534.9 L590,534.93 L592,534.66 L594,534.93 L596,534.62 L598,534.59 L600,534.61 L602,534.6 L604,534.89 L606,534.93 L608,534.99 L610,534.57 L612,535.04 L614,534.85 L616,534.78 L618,534.88 L620,534.84 L622,534.69 L624,534.83 L626,535.02 L628,535.07 L630,535.22 L632,534.73 L634,535.22 L636,535.17 L638,535.11 L640,535.31 L642,534.73 L644,535.18 L646,535" stroke="#737373" stroke-width="4.2" fill="none" stroke-linejoin="round" stroke-linecap="round" />
<circle cx="256.6" cy="546.4" r="1.6" fill="#666" />
<path d="M256.4,565.2 L646,583.4" stroke="#ee5e68" stroke-width="4.4" fill="none" stroke-linejoin="round" stroke-linecap="round" />
<circle cx="646" cy="583.4" r="1.6" fill="#fff" stroke="#ec5c66" stroke-width="0.6"/>
<path d="M619,546 Q632,548.6 645.6,549.2" stroke="#555" stroke-width="0.75" fill="none" stroke-linejoin="round" stroke-linecap="round" />
<path d="M647.6,549.3 L644.4,548 L644.4,550.6 Z" fill="#555"/>
<text x="318.4" y="596.6" font-size="9.2" text-anchor="start" fill="#ec4c58" stroke="#ec4c58" stroke-width="0.13" >Na<tspan dy="2.2" font-size="6.1">x</tspan><tspan dy="-2.2">H</tspan><tspan dy="2.2" font-size="6.1">2−x</tspan><tspan dy="-2.2">Ti</tspan><tspan dy="2.2" font-size="6.1">2</tspan><tspan dy="-2.2">O</tspan><tspan dy="2.2" font-size="6.1">5</tspan><tspan dy="-2.2">||NaMnO</tspan><tspan dy="2.2" font-size="6.1">2</tspan><tspan dy="-2.2">•0.1H</tspan><tspan dy="2.2" font-size="6.1">2</tspan><tspan dy="-2.2">O, 25°C, after 8000 cycles, 80.7%</tspan></text>
<line x1="246.4" y1="520" x2="655.6" y2="520" stroke="#8a8a8a" stroke-width="0.9" />
<line x1="655.6" y1="520" x2="655.6" y2="655.3" stroke="#999" stroke-width="0.9" />
<line x1="246.4" y1="655.3" x2="655.6" y2="655.3" stroke="#333" stroke-width="0.9" />
<line x1="246.4" y1="520" x2="246.4" y2="655.3" stroke="#333" stroke-width="0.9" />
<line x1="256.4" y1="655.3" x2="256.4" y2="658.3" stroke="#333" stroke-width="0.8" />
<line x1="353.6" y1="655.3" x2="353.6" y2="658.3" stroke="#333" stroke-width="0.8" />
<line x1="450.8" y1="655.3" x2="450.8" y2="658.3" stroke="#333" stroke-width="0.8" />
<line x1="548" y1="655.3" x2="548" y2="658.3" stroke="#333" stroke-width="0.8" />
<line x1="645.2" y1="655.3" x2="645.2" y2="658.3" stroke="#333" stroke-width="0.8" />
<line x1="305" y1="655.3" x2="305" y2="657.3" stroke="#333" stroke-width="0.8" />
<line x1="402.2" y1="655.3" x2="402.2" y2="657.3" stroke="#333" stroke-width="0.8" />
<line x1="499.4" y1="655.3" x2="499.4" y2="657.3" stroke="#333" stroke-width="0.8" />
<line x1="596.6" y1="655.3" x2="596.6" y2="657.3" stroke="#333" stroke-width="0.8" />
<line x1="246.4" y1="655.4" x2="243.4" y2="655.4" stroke="#333" stroke-width="0.8" />
<line x1="246.4" y1="638.4" x2="243.4" y2="638.4" stroke="#333" stroke-width="0.8" />
<line x1="246.4" y1="621.4" x2="243.4" y2="621.4" stroke="#333" stroke-width="0.8" />
<line x1="246.4" y1="604.4" x2="243.4" y2="604.4" stroke="#333" stroke-width="0.8" />
<line x1="246.4" y1="587.4" x2="243.4" y2="587.4" stroke="#333" stroke-width="0.8" />
<line x1="246.4" y1="570.4" x2="243.4" y2="570.4" stroke="#333" stroke-width="0.8" />
<line x1="246.4" y1="553.4" x2="243.4" y2="553.4" stroke="#333" stroke-width="0.8" />
<line x1="246.4" y1="536.4" x2="243.4" y2="536.4" stroke="#333" stroke-width="0.8" />
<line x1="246.4" y1="519.4" x2="243.4" y2="519.4" stroke="#333" stroke-width="0.8" />
<line x1="246.4" y1="646.9" x2="244.4" y2="646.9" stroke="#333" stroke-width="0.8" />
<line x1="246.4" y1="629.9" x2="244.4" y2="629.9" stroke="#333" stroke-width="0.8" />
<line x1="246.4" y1="612.9" x2="244.4" y2="612.9" stroke="#333" stroke-width="0.8" />
<line x1="246.4" y1="595.9" x2="244.4" y2="595.9" stroke="#333" stroke-width="0.8" />
<line x1="246.4" y1="578.9" x2="244.4" y2="578.9" stroke="#333" stroke-width="0.8" />
<line x1="246.4" y1="561.9" x2="244.4" y2="561.9" stroke="#333" stroke-width="0.8" />
<line x1="246.4" y1="544.9" x2="244.4" y2="544.9" stroke="#333" stroke-width="0.8" />
<line x1="246.4" y1="527.9" x2="244.4" y2="527.9" stroke="#333" stroke-width="0.8" />
<line x1="655.6" y1="561.4" x2="658.6" y2="561.4" stroke="#999" stroke-width="0.8" />
<line x1="655.6" y1="547.47" x2="658.6" y2="547.47" stroke="#999" stroke-width="0.8" />
<line x1="655.6" y1="533.53" x2="658.6" y2="533.53" stroke="#999" stroke-width="0.8" />
<line x1="655.6" y1="519.6" x2="658.6" y2="519.6" stroke="#999" stroke-width="0.8" />
<line x1="655.6" y1="568.37" x2="657.6" y2="568.37" stroke="#999" stroke-width="0.8" />
<line x1="655.6" y1="554.44" x2="657.6" y2="554.44" stroke="#999" stroke-width="0.8" />
<line x1="655.6" y1="540.5" x2="657.6" y2="540.5" stroke="#999" stroke-width="0.8" />
<line x1="655.6" y1="526.57" x2="657.6" y2="526.57" stroke="#999" stroke-width="0.8" />
<text transform="translate(256.4,669.3) scale(0.98,1)" font-size="9.4" text-anchor="middle" fill="#2a2a2a" stroke="#2a2a2a" stroke-width="0.13" >0</text>
<text transform="translate(353.6,669.3) scale(0.98,1)" font-size="9.4" text-anchor="middle" fill="#2a2a2a" stroke="#2a2a2a" stroke-width="0.13" >2000</text>
<text transform="translate(450.8,669.3) scale(0.98,1)" font-size="9.4" text-anchor="middle" fill="#2a2a2a" stroke="#2a2a2a" stroke-width="0.13" >4000</text>
<text transform="translate(548,669.3) scale(0.98,1)" font-size="9.4" text-anchor="middle" fill="#2a2a2a" stroke="#2a2a2a" stroke-width="0.13" >6000</text>
<text transform="translate(645.2,669.3) scale(0.98,1)" font-size="9.4" text-anchor="middle" fill="#2a2a2a" stroke="#2a2a2a" stroke-width="0.13" >8000</text>
<text transform="translate(240.6,658.3) scale(0.98,1)" font-size="9.4" text-anchor="end" fill="#2a2a2a" stroke="#2a2a2a" stroke-width="0.13" >0</text>
<text transform="translate(240.6,641.3) scale(0.98,1)" font-size="9.4" text-anchor="end" fill="#2a2a2a" stroke="#2a2a2a" stroke-width="0.13" >5</text>
<text transform="translate(240.6,624.3) scale(0.98,1)" font-size="9.4" text-anchor="end" fill="#2a2a2a" stroke="#2a2a2a" stroke-width="0.13" >10</text>
<text transform="translate(240.6,607.3) scale(0.98,1)" font-size="9.4" text-anchor="end" fill="#2a2a2a" stroke="#2a2a2a" stroke-width="0.13" >15</text>
<text transform="translate(240.6,590.3) scale(0.98,1)" font-size="9.4" text-anchor="end" fill="#2a2a2a" stroke="#2a2a2a" stroke-width="0.13" >20</text>
<text transform="translate(240.6,573.3) scale(0.98,1)" font-size="9.4" text-anchor="end" fill="#2a2a2a" stroke="#2a2a2a" stroke-width="0.13" >25</text>
<text transform="translate(240.6,556.3) scale(0.98,1)" font-size="9.4" text-anchor="end" fill="#2a2a2a" stroke="#2a2a2a" stroke-width="0.13" >30</text>
<text transform="translate(240.6,539.3) scale(0.98,1)" font-size="9.4" text-anchor="end" fill="#2a2a2a" stroke="#2a2a2a" stroke-width="0.13" >35</text>
<text transform="translate(240.6,522.3) scale(0.98,1)" font-size="9.4" text-anchor="end" fill="#2a2a2a" stroke="#2a2a2a" stroke-width="0.13" >40</text>
<text transform="translate(659.6,564.4) scale(0.92,1)" font-size="9.4" text-anchor="start" fill="#999" stroke="#999" stroke-width="0.13" >90</text>
<text transform="translate(659.6,550.47) scale(0.92,1)" font-size="9.4" text-anchor="start" fill="#999" stroke="#999" stroke-width="0.13" >95</text>
<text transform="translate(659.6,536.53) scale(0.92,1)" font-size="9.4" text-anchor="start" fill="#999" stroke="#999" stroke-width="0.13" >100</text>
<text transform="translate(659.6,522.6) scale(0.92,1)" font-size="9.4" text-anchor="start" fill="#999" stroke="#999" stroke-width="0.13" >105</text>
<text x="457.2" y="678.4" font-size="9.2" text-anchor="middle" fill="#2a2a2a" stroke="#2a2a2a" stroke-width="0.13" >Cycle number</text>
<text transform="translate(227,587.5) rotate(-90)" font-size="9.2" text-anchor="middle" fill="#2a2a2a" stroke="#2a2a2a" stroke-width="0.13" >Specific capacity (mAh g<tspan dy="-3.50" font-size="5.70">-1</tspan><tspan dy="3.50">)</tspan></text>
<text transform="translate(682,566.5) rotate(-90)" font-size="9.3" text-anchor="middle" fill="#999" stroke="#999" stroke-width="0.13" >Coulombic efficiency (%)</text>
<text x="206.6" y="524" font-size="16.8" text-anchor="start" fill="#000" stroke="#000" stroke-width="0.13" >i</text>
</svg></body></html>
